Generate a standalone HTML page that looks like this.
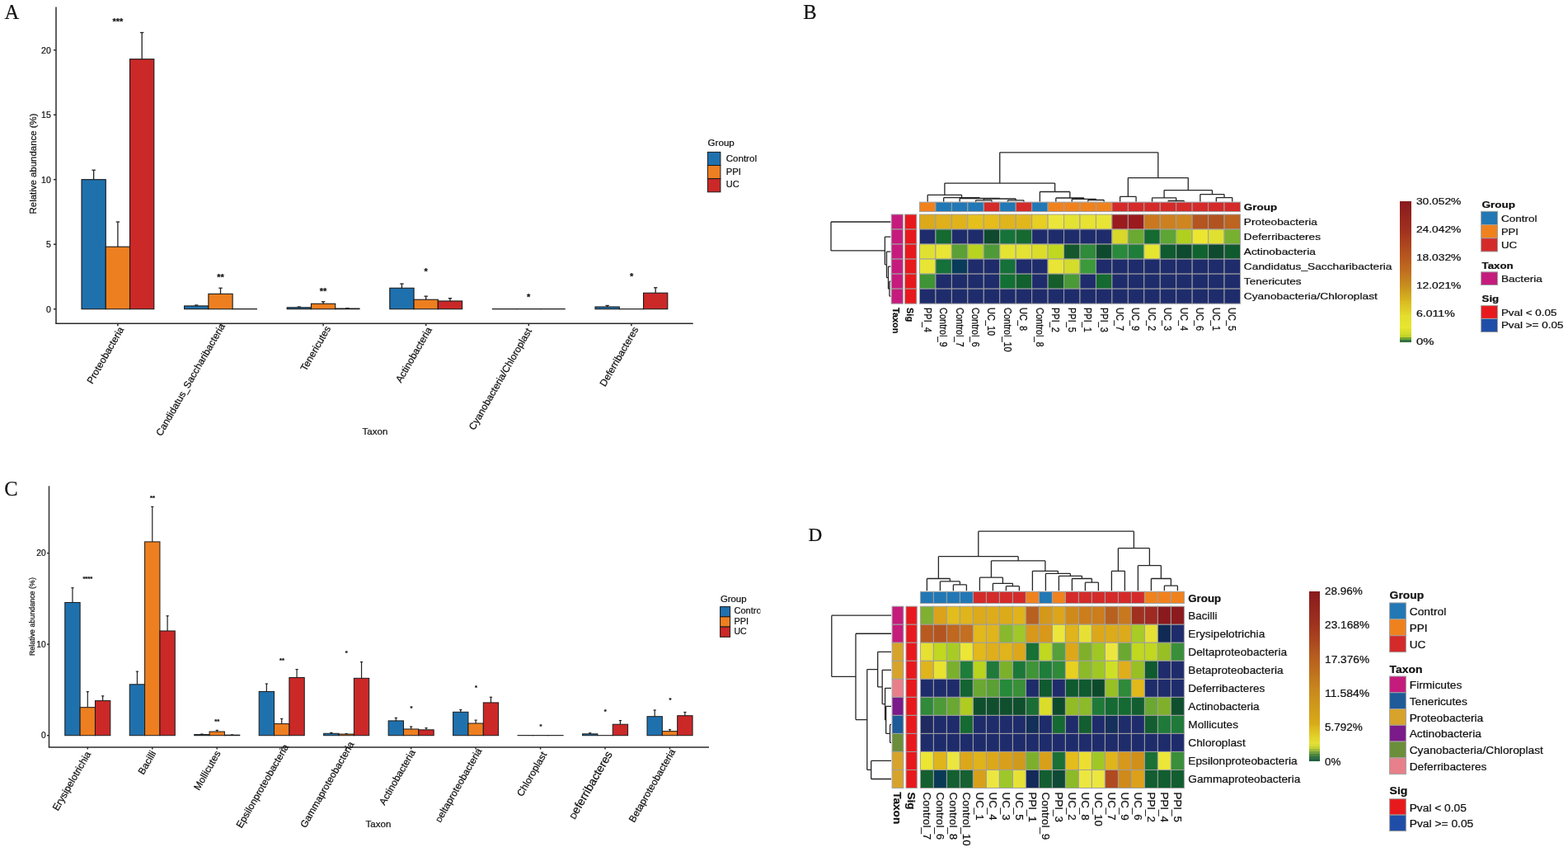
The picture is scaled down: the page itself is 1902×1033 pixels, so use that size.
<!DOCTYPE html><html><head><meta charset="utf-8"><title>Figure</title>
<style>html,body{margin:0;padding:0;background:#fff;}svg{display:block;}text{font-family:'Liberation Sans', Arial, sans-serif;fill:#111;stroke:#111;stroke-width:0.22px;}</style></head><body>
<svg width="1902" height="1033" viewBox="0 0 1902 1033">
<rect x="0" y="0" width="1902" height="1033" fill="#fff"/>
<text x="5.6" y="22.6" font-size="24.5" style="font-family:'Liberation Serif', 'Times New Roman', serif">A</text>
<text x="974.2" y="22.8" font-size="24.5" style="font-family:'Liberation Serif', 'Times New Roman', serif">B</text>
<text x="5.2" y="600.8" font-size="24.5" style="font-family:'Liberation Serif', 'Times New Roman', serif">C</text>
<text x="980.6" y="656" font-size="23.2" style="font-family:'Liberation Serif', 'Times New Roman', serif">D</text>
<line x1="113.63" y1="217.7" x2="113.63" y2="206.24" stroke="#222" stroke-width="1.3"/>
<line x1="111.43" y1="206.24" x2="115.83" y2="206.24" stroke="#222" stroke-width="1.3"/>
<rect x="99" y="217.7" width="29.27" height="157" fill="#1f71ae" stroke="#1a1a1a" stroke-width="1.1"/>
<line x1="142.9" y1="299.18" x2="142.9" y2="269.04" stroke="#222" stroke-width="1.3"/>
<line x1="140.7" y1="269.04" x2="145.1" y2="269.04" stroke="#222" stroke-width="1.3"/>
<rect x="128.27" y="299.18" width="29.27" height="75.52" fill="#ee7f20" stroke="#1a1a1a" stroke-width="1.1"/>
<line x1="172.17" y1="71.69" x2="172.17" y2="39.5" stroke="#222" stroke-width="1.3"/>
<line x1="169.97" y1="39.5" x2="174.37" y2="39.5" stroke="#222" stroke-width="1.3"/>
<rect x="157.53" y="71.69" width="29.27" height="303.01" fill="#cb2828" stroke="#1a1a1a" stroke-width="1.1"/>
<line x1="238.23" y1="370.93" x2="238.23" y2="369.99" stroke="#222" stroke-width="1.3"/>
<line x1="236.03" y1="369.99" x2="240.43" y2="369.99" stroke="#222" stroke-width="1.3"/>
<rect x="223.59" y="370.93" width="29.27" height="3.77" fill="#1f71ae" stroke="#1a1a1a" stroke-width="1.1"/>
<line x1="267.5" y1="356.33" x2="267.5" y2="349.27" stroke="#222" stroke-width="1.3"/>
<line x1="265.3" y1="349.27" x2="269.7" y2="349.27" stroke="#222" stroke-width="1.3"/>
<rect x="252.87" y="356.33" width="29.27" height="18.37" fill="#ee7f20" stroke="#1a1a1a" stroke-width="1.1"/>
<rect x="282.13" y="374.54" width="29.27" height="0.16" fill="#cb2828" stroke="#1a1a1a" stroke-width="1.1"/>
<line x1="362.83" y1="372.82" x2="362.83" y2="372.03" stroke="#222" stroke-width="1.3"/>
<line x1="360.63" y1="372.03" x2="365.03" y2="372.03" stroke="#222" stroke-width="1.3"/>
<rect x="348.2" y="372.82" width="29.27" height="1.88" fill="#1f71ae" stroke="#1a1a1a" stroke-width="1.1"/>
<line x1="392.1" y1="368.26" x2="392.1" y2="365.75" stroke="#222" stroke-width="1.3"/>
<line x1="389.9" y1="365.75" x2="394.3" y2="365.75" stroke="#222" stroke-width="1.3"/>
<rect x="377.47" y="368.26" width="29.27" height="6.44" fill="#ee7f20" stroke="#1a1a1a" stroke-width="1.1"/>
<line x1="421.37" y1="374.07" x2="421.37" y2="373.76" stroke="#222" stroke-width="1.3"/>
<line x1="419.17" y1="373.76" x2="423.57" y2="373.76" stroke="#222" stroke-width="1.3"/>
<rect x="406.74" y="374.07" width="29.27" height="0.63" fill="#cb2828" stroke="#1a1a1a" stroke-width="1.1"/>
<line x1="487.43" y1="349.27" x2="487.43" y2="344.08" stroke="#222" stroke-width="1.3"/>
<line x1="485.23" y1="344.08" x2="489.63" y2="344.08" stroke="#222" stroke-width="1.3"/>
<rect x="472.79" y="349.27" width="29.27" height="25.43" fill="#1f71ae" stroke="#1a1a1a" stroke-width="1.1"/>
<line x1="516.7" y1="363.24" x2="516.7" y2="359.16" stroke="#222" stroke-width="1.3"/>
<line x1="514.5" y1="359.16" x2="518.9" y2="359.16" stroke="#222" stroke-width="1.3"/>
<rect x="502.06" y="363.24" width="29.27" height="11.46" fill="#ee7f20" stroke="#1a1a1a" stroke-width="1.1"/>
<line x1="545.97" y1="364.97" x2="545.97" y2="361.67" stroke="#222" stroke-width="1.3"/>
<line x1="543.77" y1="361.67" x2="548.17" y2="361.67" stroke="#222" stroke-width="1.3"/>
<rect x="531.33" y="364.97" width="29.27" height="9.73" fill="#cb2828" stroke="#1a1a1a" stroke-width="1.1"/>
<rect x="597.39" y="374.54" width="29.27" height="0.16" fill="#1f71ae" stroke="#1a1a1a" stroke-width="1.1"/>
<rect x="626.66" y="374.54" width="29.27" height="0.16" fill="#ee7f20" stroke="#1a1a1a" stroke-width="1.1"/>
<rect x="655.93" y="374.54" width="29.27" height="0.16" fill="#cb2828" stroke="#1a1a1a" stroke-width="1.1"/>
<line x1="736.63" y1="372.03" x2="736.63" y2="370.46" stroke="#222" stroke-width="1.3"/>
<line x1="734.43" y1="370.46" x2="738.83" y2="370.46" stroke="#222" stroke-width="1.3"/>
<rect x="722" y="372.03" width="29.27" height="2.67" fill="#1f71ae" stroke="#1a1a1a" stroke-width="1.1"/>
<rect x="751.26" y="374.62" width="29.27" height="0.08" fill="#ee7f20" stroke="#1a1a1a" stroke-width="1.1"/>
<line x1="795.17" y1="355.23" x2="795.17" y2="348.8" stroke="#222" stroke-width="1.3"/>
<line x1="792.97" y1="348.8" x2="797.37" y2="348.8" stroke="#222" stroke-width="1.3"/>
<rect x="780.53" y="355.23" width="29.27" height="19.47" fill="#cb2828" stroke="#1a1a1a" stroke-width="1.1"/>
<line x1="68" y1="8.5" x2="68" y2="392.2" stroke="#2b2b2b" stroke-width="1.5"/>
<line x1="67.25" y1="392.2" x2="840.7" y2="392.2" stroke="#2b2b2b" stroke-width="1.5"/>
<line x1="65" y1="374.7" x2="68" y2="374.7" stroke="#2b2b2b" stroke-width="1.5"/>
<text x="61.9" y="378.5" font-size="10.6" text-anchor="end">0</text>
<line x1="65" y1="296.2" x2="68" y2="296.2" stroke="#2b2b2b" stroke-width="1.5"/>
<text x="61.9" y="300" font-size="10.6" text-anchor="end">5</text>
<line x1="65" y1="217.7" x2="68" y2="217.7" stroke="#2b2b2b" stroke-width="1.5"/>
<text x="61.9" y="221.5" font-size="10.6" text-anchor="end">10</text>
<line x1="65" y1="139.2" x2="68" y2="139.2" stroke="#2b2b2b" stroke-width="1.5"/>
<text x="61.9" y="143" font-size="10.6" text-anchor="end">15</text>
<line x1="65" y1="60.7" x2="68" y2="60.7" stroke="#2b2b2b" stroke-width="1.5"/>
<text x="61.9" y="64.5" font-size="10.6" text-anchor="end">20</text>
<line x1="142.9" y1="392.2" x2="142.9" y2="395.2" stroke="#2b2b2b" stroke-width="1.5"/>
<line x1="267.5" y1="392.2" x2="267.5" y2="395.2" stroke="#2b2b2b" stroke-width="1.5"/>
<line x1="392.1" y1="392.2" x2="392.1" y2="395.2" stroke="#2b2b2b" stroke-width="1.5"/>
<line x1="516.7" y1="392.2" x2="516.7" y2="395.2" stroke="#2b2b2b" stroke-width="1.5"/>
<line x1="641.3" y1="392.2" x2="641.3" y2="395.2" stroke="#2b2b2b" stroke-width="1.5"/>
<line x1="765.9" y1="392.2" x2="765.9" y2="395.2" stroke="#2b2b2b" stroke-width="1.5"/>
<text x="0" y="0" font-size="11.9" text-anchor="end" transform="translate(150.6 399.2) rotate(-60)">Proteobacteria</text>
<text x="0" y="0" font-size="11.9" text-anchor="end" transform="translate(273.3 395) rotate(-60)">Candidatus_Saccharibacteria</text>
<text x="0" y="0" font-size="11.9" text-anchor="end" transform="translate(401.4 398.2) rotate(-60)">Tenericutes</text>
<text x="0" y="0" font-size="11.9" text-anchor="end" transform="translate(524.2 399.6) rotate(-60)">Actinobacteria</text>
<text x="0" y="0" font-size="11.9" text-anchor="end" transform="translate(645.3 400.9) rotate(-60)">Cyanobacteria/Chloroplast</text>
<text x="0" y="0" font-size="11.9" text-anchor="end" transform="translate(774.7 399) rotate(-60)">Deferribacteres</text>
<text x="142.9" y="29.6" font-size="11" text-anchor="middle" font-weight="bold" fill="#000">***</text>
<text x="267.5" y="339.8" font-size="11" text-anchor="middle" font-weight="bold" fill="#000">**</text>
<text x="392.1" y="356.5" font-size="11" text-anchor="middle" font-weight="bold" fill="#000">**</text>
<text x="516.7" y="333.4" font-size="11" text-anchor="middle" font-weight="bold" fill="#000">*</text>
<text x="641.2" y="364.4" font-size="11" text-anchor="middle" font-weight="bold" fill="#000">*</text>
<text x="766.1" y="338.7" font-size="11" text-anchor="middle" font-weight="bold" fill="#000">*</text>
<text x="0" y="0" font-size="11.4" text-anchor="middle" textLength="122" lengthAdjust="spacingAndGlyphs" transform="translate(43.8 198.5) rotate(-90)">Relative abundance (%)</text>
<text x="439.6" y="526.8" font-size="11.3" textLength="30.8" lengthAdjust="spacingAndGlyphs">Taxon</text>
<text x="858.6" y="176.6" font-size="10.4" textLength="32.2" lengthAdjust="spacingAndGlyphs">Group</text>
<rect x="858.4" y="184.4" width="15.5" height="16.13" fill="#1f71ae" stroke="#1a1a1a" stroke-width="1"/>
<rect x="858.4" y="200.53" width="15.5" height="16.13" fill="#ee7f20" stroke="#1a1a1a" stroke-width="1"/>
<rect x="858.4" y="216.66" width="15.5" height="16.13" fill="#cb2828" stroke="#1a1a1a" stroke-width="1"/>
<text x="880.7" y="195.5" font-size="10.8" textLength="37.3" lengthAdjust="spacingAndGlyphs">Control</text>
<text x="880.7" y="211.5" font-size="10.8" textLength="18.3" lengthAdjust="spacingAndGlyphs">PPI</text>
<text x="880.7" y="227.4" font-size="10.8" textLength="15.9" lengthAdjust="spacingAndGlyphs">UC</text>
<line x1="87.95" y1="730.48" x2="87.95" y2="712.69" stroke="#222" stroke-width="1.2"/>
<line x1="86.35" y1="712.69" x2="89.55" y2="712.69" stroke="#222" stroke-width="1.2"/>
<rect x="78.77" y="730.48" width="18.35" height="161.22" fill="#1f71ae" stroke="#1a1a1a" stroke-width="1"/>
<line x1="106.3" y1="857.67" x2="106.3" y2="838.66" stroke="#222" stroke-width="1.2"/>
<line x1="104.7" y1="838.66" x2="107.9" y2="838.66" stroke="#222" stroke-width="1.2"/>
<rect x="97.12" y="857.67" width="18.35" height="34.03" fill="#ee7f20" stroke="#1a1a1a" stroke-width="1"/>
<line x1="124.65" y1="849.6" x2="124.65" y2="843.85" stroke="#222" stroke-width="1.2"/>
<line x1="123.05" y1="843.85" x2="126.25" y2="843.85" stroke="#222" stroke-width="1.2"/>
<rect x="115.47" y="849.6" width="18.35" height="42.1" fill="#cb2828" stroke="#1a1a1a" stroke-width="1"/>
<line x1="166.42" y1="829.82" x2="166.42" y2="814.13" stroke="#222" stroke-width="1.2"/>
<line x1="164.82" y1="814.13" x2="168.02" y2="814.13" stroke="#222" stroke-width="1.2"/>
<rect x="157.24" y="829.82" width="18.35" height="61.88" fill="#1f71ae" stroke="#1a1a1a" stroke-width="1"/>
<line x1="184.77" y1="656.89" x2="184.77" y2="614.35" stroke="#222" stroke-width="1.2"/>
<line x1="183.17" y1="614.35" x2="186.37" y2="614.35" stroke="#222" stroke-width="1.2"/>
<rect x="175.59" y="656.89" width="18.35" height="234.81" fill="#ee7f20" stroke="#1a1a1a" stroke-width="1"/>
<line x1="203.12" y1="764.96" x2="203.12" y2="746.72" stroke="#222" stroke-width="1.2"/>
<line x1="201.52" y1="746.72" x2="204.72" y2="746.72" stroke="#222" stroke-width="1.2"/>
<rect x="193.94" y="764.96" width="18.35" height="126.74" fill="#cb2828" stroke="#1a1a1a" stroke-width="1"/>
<line x1="244.89" y1="890.6" x2="244.89" y2="890.04" stroke="#222" stroke-width="1.2"/>
<line x1="243.29" y1="890.04" x2="246.49" y2="890.04" stroke="#222" stroke-width="1.2"/>
<rect x="235.72" y="890.6" width="18.35" height="1.11" fill="#1f71ae" stroke="#1a1a1a" stroke-width="1"/>
<line x1="263.24" y1="887.06" x2="263.24" y2="885.4" stroke="#222" stroke-width="1.2"/>
<line x1="261.64" y1="885.4" x2="264.84" y2="885.4" stroke="#222" stroke-width="1.2"/>
<rect x="254.06" y="887.06" width="18.35" height="4.64" fill="#ee7f20" stroke="#1a1a1a" stroke-width="1"/>
<line x1="281.59" y1="891.15" x2="281.59" y2="890.93" stroke="#222" stroke-width="1.2"/>
<line x1="279.99" y1="890.93" x2="283.19" y2="890.93" stroke="#222" stroke-width="1.2"/>
<rect x="272.42" y="891.15" width="18.35" height="0.55" fill="#cb2828" stroke="#1a1a1a" stroke-width="1"/>
<line x1="323.36" y1="838.44" x2="323.36" y2="829.05" stroke="#222" stroke-width="1.2"/>
<line x1="321.76" y1="829.05" x2="324.96" y2="829.05" stroke="#222" stroke-width="1.2"/>
<rect x="314.19" y="838.44" width="18.35" height="53.26" fill="#1f71ae" stroke="#1a1a1a" stroke-width="1"/>
<line x1="341.71" y1="877.56" x2="341.71" y2="871.48" stroke="#222" stroke-width="1.2"/>
<line x1="340.11" y1="871.48" x2="343.31" y2="871.48" stroke="#222" stroke-width="1.2"/>
<rect x="332.53" y="877.56" width="18.35" height="14.14" fill="#ee7f20" stroke="#1a1a1a" stroke-width="1"/>
<line x1="360.06" y1="821.53" x2="360.06" y2="811.59" stroke="#222" stroke-width="1.2"/>
<line x1="358.46" y1="811.59" x2="361.66" y2="811.59" stroke="#222" stroke-width="1.2"/>
<rect x="350.88" y="821.53" width="18.35" height="70.17" fill="#cb2828" stroke="#1a1a1a" stroke-width="1"/>
<line x1="401.83" y1="889.27" x2="401.83" y2="888.38" stroke="#222" stroke-width="1.2"/>
<line x1="400.23" y1="888.38" x2="403.43" y2="888.38" stroke="#222" stroke-width="1.2"/>
<rect x="392.66" y="889.27" width="18.35" height="2.43" fill="#1f71ae" stroke="#1a1a1a" stroke-width="1"/>
<line x1="420.18" y1="890.04" x2="420.18" y2="889.49" stroke="#222" stroke-width="1.2"/>
<line x1="418.58" y1="889.49" x2="421.78" y2="889.49" stroke="#222" stroke-width="1.2"/>
<rect x="411" y="890.04" width="18.35" height="1.66" fill="#ee7f20" stroke="#1a1a1a" stroke-width="1"/>
<line x1="438.53" y1="822.31" x2="438.53" y2="802.64" stroke="#222" stroke-width="1.2"/>
<line x1="436.93" y1="802.64" x2="440.13" y2="802.64" stroke="#222" stroke-width="1.2"/>
<rect x="429.36" y="822.31" width="18.35" height="69.39" fill="#cb2828" stroke="#1a1a1a" stroke-width="1"/>
<line x1="480.3" y1="873.91" x2="480.3" y2="870.37" stroke="#222" stroke-width="1.2"/>
<line x1="478.7" y1="870.37" x2="481.9" y2="870.37" stroke="#222" stroke-width="1.2"/>
<rect x="471.13" y="873.91" width="18.35" height="17.79" fill="#1f71ae" stroke="#1a1a1a" stroke-width="1"/>
<line x1="498.65" y1="883.97" x2="498.65" y2="880.98" stroke="#222" stroke-width="1.2"/>
<line x1="497.05" y1="880.98" x2="500.25" y2="880.98" stroke="#222" stroke-width="1.2"/>
<rect x="489.48" y="883.97" width="18.35" height="7.74" fill="#ee7f20" stroke="#1a1a1a" stroke-width="1"/>
<line x1="517" y1="884.85" x2="517" y2="882.64" stroke="#222" stroke-width="1.2"/>
<line x1="515.4" y1="882.64" x2="518.6" y2="882.64" stroke="#222" stroke-width="1.2"/>
<rect x="507.83" y="884.85" width="18.35" height="6.85" fill="#cb2828" stroke="#1a1a1a" stroke-width="1"/>
<line x1="558.77" y1="863.3" x2="558.77" y2="860.54" stroke="#222" stroke-width="1.2"/>
<line x1="557.17" y1="860.54" x2="560.37" y2="860.54" stroke="#222" stroke-width="1.2"/>
<rect x="549.6" y="863.3" width="18.35" height="28.4" fill="#1f71ae" stroke="#1a1a1a" stroke-width="1"/>
<line x1="577.12" y1="877" x2="577.12" y2="873.14" stroke="#222" stroke-width="1.2"/>
<line x1="575.52" y1="873.14" x2="578.72" y2="873.14" stroke="#222" stroke-width="1.2"/>
<rect x="567.95" y="877" width="18.35" height="14.7" fill="#ee7f20" stroke="#1a1a1a" stroke-width="1"/>
<line x1="595.47" y1="851.92" x2="595.47" y2="845.29" stroke="#222" stroke-width="1.2"/>
<line x1="593.87" y1="845.29" x2="597.07" y2="845.29" stroke="#222" stroke-width="1.2"/>
<rect x="586.29" y="851.92" width="18.35" height="39.78" fill="#cb2828" stroke="#1a1a1a" stroke-width="1"/>
<rect x="628.06" y="891.59" width="18.35" height="0.11" fill="#1f71ae" stroke="#1a1a1a" stroke-width="1"/>
<rect x="646.41" y="891.59" width="18.35" height="0.11" fill="#ee7f20" stroke="#1a1a1a" stroke-width="1"/>
<rect x="664.76" y="891.59" width="18.35" height="0.11" fill="#cb2828" stroke="#1a1a1a" stroke-width="1"/>
<line x1="715.71" y1="889.82" x2="715.71" y2="888.72" stroke="#222" stroke-width="1.2"/>
<line x1="714.11" y1="888.72" x2="717.31" y2="888.72" stroke="#222" stroke-width="1.2"/>
<rect x="706.53" y="889.82" width="18.35" height="1.88" fill="#1f71ae" stroke="#1a1a1a" stroke-width="1"/>
<rect x="724.88" y="891.64" width="18.35" height="0.06" fill="#ee7f20" stroke="#1a1a1a" stroke-width="1"/>
<line x1="752.41" y1="878.22" x2="752.41" y2="873.58" stroke="#222" stroke-width="1.2"/>
<line x1="750.81" y1="873.58" x2="754.01" y2="873.58" stroke="#222" stroke-width="1.2"/>
<rect x="743.23" y="878.22" width="18.35" height="13.48" fill="#cb2828" stroke="#1a1a1a" stroke-width="1"/>
<line x1="794.18" y1="868.72" x2="794.18" y2="860.98" stroke="#222" stroke-width="1.2"/>
<line x1="792.58" y1="860.98" x2="795.78" y2="860.98" stroke="#222" stroke-width="1.2"/>
<rect x="785" y="868.72" width="18.35" height="22.98" fill="#1f71ae" stroke="#1a1a1a" stroke-width="1"/>
<line x1="812.53" y1="886.62" x2="812.53" y2="884.52" stroke="#222" stroke-width="1.2"/>
<line x1="810.93" y1="884.52" x2="814.13" y2="884.52" stroke="#222" stroke-width="1.2"/>
<rect x="803.36" y="886.62" width="18.35" height="5.08" fill="#ee7f20" stroke="#1a1a1a" stroke-width="1"/>
<line x1="830.88" y1="867.72" x2="830.88" y2="863.52" stroke="#222" stroke-width="1.2"/>
<line x1="829.28" y1="863.52" x2="832.48" y2="863.52" stroke="#222" stroke-width="1.2"/>
<rect x="821.7" y="867.72" width="18.35" height="23.98" fill="#cb2828" stroke="#1a1a1a" stroke-width="1"/>
<line x1="59.5" y1="589.2" x2="59.5" y2="906" stroke="#2b2b2b" stroke-width="1.45"/>
<line x1="58.77" y1="906" x2="860" y2="906" stroke="#2b2b2b" stroke-width="1.45"/>
<line x1="57" y1="891.7" x2="59.5" y2="891.7" stroke="#2b2b2b" stroke-width="1.45"/>
<text x="55.6" y="895.3" font-size="10.2" text-anchor="end">0</text>
<line x1="57" y1="781.2" x2="59.5" y2="781.2" stroke="#2b2b2b" stroke-width="1.45"/>
<text x="55.6" y="784.8" font-size="10.2" text-anchor="end">10</text>
<line x1="57" y1="670.7" x2="59.5" y2="670.7" stroke="#2b2b2b" stroke-width="1.45"/>
<text x="55.6" y="674.3" font-size="10.2" text-anchor="end">20</text>
<line x1="106.3" y1="906" x2="106.3" y2="908.5" stroke="#2b2b2b" stroke-width="1.45"/>
<line x1="184.77" y1="906" x2="184.77" y2="908.5" stroke="#2b2b2b" stroke-width="1.45"/>
<line x1="263.24" y1="906" x2="263.24" y2="908.5" stroke="#2b2b2b" stroke-width="1.45"/>
<line x1="341.71" y1="906" x2="341.71" y2="908.5" stroke="#2b2b2b" stroke-width="1.45"/>
<line x1="420.18" y1="906" x2="420.18" y2="908.5" stroke="#2b2b2b" stroke-width="1.45"/>
<line x1="498.65" y1="906" x2="498.65" y2="908.5" stroke="#2b2b2b" stroke-width="1.45"/>
<line x1="577.12" y1="906" x2="577.12" y2="908.5" stroke="#2b2b2b" stroke-width="1.45"/>
<line x1="655.59" y1="906" x2="655.59" y2="908.5" stroke="#2b2b2b" stroke-width="1.45"/>
<line x1="734.06" y1="906" x2="734.06" y2="908.5" stroke="#2b2b2b" stroke-width="1.45"/>
<line x1="812.53" y1="906" x2="812.53" y2="908.5" stroke="#2b2b2b" stroke-width="1.45"/>
<text x="0" y="0" font-size="11.9" text-anchor="end" transform="translate(110.6 914) rotate(-60)">Erysipelotrichia</text>
<text x="0" y="0" font-size="11.9" text-anchor="end" transform="translate(189.6 913.2) rotate(-60)">Bacilli</text>
<text x="0" y="0" font-size="11.9" text-anchor="end" transform="translate(267.9 913.2) rotate(-60)">Mollicutes</text>
<text x="0" y="0" font-size="11.9" text-anchor="end" transform="translate(350.6 905.2) rotate(-60)">Epsilonproteobacteria</text>
<text x="0" y="0" font-size="11.9" text-anchor="end" transform="translate(429.8 902) rotate(-60)">Gammaproteobacteria</text>
<text x="0" y="0" font-size="11.9" text-anchor="end" transform="translate(504.2 911.7) rotate(-60)">Actinobacteria</text>
<text x="0" y="0" font-size="11.9" text-anchor="end" transform="translate(584.9 910) rotate(-60)"><tspan font-size="8.6">D</tspan>eltaproteobacteria</text>
<text x="0" y="0" font-size="11.9" text-anchor="end" transform="translate(663.6 914.5) rotate(-60)">Chloroplast</text>
<text x="0" y="0" font-size="13.9" text-anchor="end" transform="translate(743.3 914.1) rotate(-60)"><tspan font-size="10">D</tspan>eferribacteres</text>
<text x="0" y="0" font-size="11.9" text-anchor="end" transform="translate(819.6 910.9) rotate(-60)">Betaproteobacteria</text>
<text x="106.3" y="704.3" font-size="7.6" text-anchor="middle" font-weight="bold" fill="#000">****</text>
<text x="184.9" y="605.5" font-size="7.6" text-anchor="middle" font-weight="bold" fill="#000">**</text>
<text x="263.3" y="877" font-size="7.6" text-anchor="middle" font-weight="bold" fill="#000">**</text>
<text x="342" y="802.6" font-size="7.6" text-anchor="middle" font-weight="bold" fill="#000">**</text>
<text x="420.3" y="793.5" font-size="7.6" text-anchor="middle" font-weight="bold" fill="#000">*</text>
<text x="499" y="861" font-size="7.6" text-anchor="middle" font-weight="bold" fill="#000">*</text>
<text x="577.5" y="835.7" font-size="7.6" text-anchor="middle" font-weight="bold" fill="#000">*</text>
<text x="656" y="882.5" font-size="7.6" text-anchor="middle" font-weight="bold" fill="#000">*</text>
<text x="734.2" y="864.5" font-size="7.6" text-anchor="middle" font-weight="bold" fill="#000">*</text>
<text x="813.1" y="851.4" font-size="7.6" text-anchor="middle" font-weight="bold" fill="#000">*</text>
<text x="0" y="0" font-size="8.3" text-anchor="middle" textLength="95" lengthAdjust="spacingAndGlyphs" transform="translate(41.5 747.6) rotate(-90)">Relative abundance (%)</text>
<text x="443.5" y="1002.6" font-size="11" textLength="30.8" lengthAdjust="spacingAndGlyphs">Taxon</text>
<clipPath id="clipC"><rect x="860" y="700" width="62.3" height="90"/></clipPath>
<g clip-path="url(#clipC)">
<text x="873.9" y="729.6" font-size="10.3" textLength="31.6" lengthAdjust="spacingAndGlyphs">Group</text>
<rect x="873.6" y="735.6" width="12" height="12.23" fill="#1f71ae" stroke="#1a1a1a" stroke-width="1"/>
<rect x="873.6" y="747.83" width="12" height="12.23" fill="#ee7f20" stroke="#1a1a1a" stroke-width="1"/>
<rect x="873.6" y="760.06" width="12" height="12.23" fill="#cb2828" stroke="#1a1a1a" stroke-width="1"/>
<text x="890.5" y="743.5" font-size="10.6" textLength="35.5" lengthAdjust="spacingAndGlyphs">Control</text>
<text x="890.5" y="756.6" font-size="10.6" textLength="17.5" lengthAdjust="spacingAndGlyphs">PPI</text>
<text x="890.5" y="768.6" font-size="10.6" textLength="15.2" lengthAdjust="spacingAndGlyphs">UC</text>
</g>
<rect x="1115.5" y="245.1" width="19.45" height="11.5" fill="#f0821e" stroke="#a0a0a0" stroke-width="1"/>
<rect x="1134.95" y="245.1" width="19.45" height="11.5" fill="#2178b5" stroke="#a0a0a0" stroke-width="1"/>
<rect x="1154.4" y="245.1" width="19.45" height="11.5" fill="#2178b5" stroke="#a0a0a0" stroke-width="1"/>
<rect x="1173.85" y="245.1" width="19.45" height="11.5" fill="#2178b5" stroke="#a0a0a0" stroke-width="1"/>
<rect x="1193.3" y="245.1" width="19.45" height="11.5" fill="#d42a2a" stroke="#a0a0a0" stroke-width="1"/>
<rect x="1212.75" y="245.1" width="19.45" height="11.5" fill="#2178b5" stroke="#a0a0a0" stroke-width="1"/>
<rect x="1232.2" y="245.1" width="19.45" height="11.5" fill="#d42a2a" stroke="#a0a0a0" stroke-width="1"/>
<rect x="1251.65" y="245.1" width="19.45" height="11.5" fill="#2178b5" stroke="#a0a0a0" stroke-width="1"/>
<rect x="1271.1" y="245.1" width="19.45" height="11.5" fill="#f0821e" stroke="#a0a0a0" stroke-width="1"/>
<rect x="1290.55" y="245.1" width="19.45" height="11.5" fill="#f0821e" stroke="#a0a0a0" stroke-width="1"/>
<rect x="1310" y="245.1" width="19.45" height="11.5" fill="#f0821e" stroke="#a0a0a0" stroke-width="1"/>
<rect x="1329.45" y="245.1" width="19.45" height="11.5" fill="#f0821e" stroke="#a0a0a0" stroke-width="1"/>
<rect x="1348.9" y="245.1" width="19.45" height="11.5" fill="#d42a2a" stroke="#a0a0a0" stroke-width="1"/>
<rect x="1368.35" y="245.1" width="19.45" height="11.5" fill="#d42a2a" stroke="#a0a0a0" stroke-width="1"/>
<rect x="1387.8" y="245.1" width="19.45" height="11.5" fill="#d42a2a" stroke="#a0a0a0" stroke-width="1"/>
<rect x="1407.25" y="245.1" width="19.45" height="11.5" fill="#d42a2a" stroke="#a0a0a0" stroke-width="1"/>
<rect x="1426.7" y="245.1" width="19.45" height="11.5" fill="#d42a2a" stroke="#a0a0a0" stroke-width="1"/>
<rect x="1446.15" y="245.1" width="19.45" height="11.5" fill="#d42a2a" stroke="#a0a0a0" stroke-width="1"/>
<rect x="1465.6" y="245.1" width="19.45" height="11.5" fill="#d42a2a" stroke="#a0a0a0" stroke-width="1"/>
<rect x="1485.05" y="245.1" width="19.45" height="11.5" fill="#d42a2a" stroke="#a0a0a0" stroke-width="1"/>
<rect x="1115.5" y="260" width="19.45" height="18.03" fill="#dba91a" stroke="#a0a0a0" stroke-width="1"/>
<rect x="1134.95" y="260" width="19.45" height="18.03" fill="#dfb01b" stroke="#a0a0a0" stroke-width="1"/>
<rect x="1154.4" y="260" width="19.45" height="18.03" fill="#e0b31b" stroke="#a0a0a0" stroke-width="1"/>
<rect x="1173.85" y="260" width="19.45" height="18.03" fill="#e6c01a" stroke="#a0a0a0" stroke-width="1"/>
<rect x="1193.3" y="260" width="19.45" height="18.03" fill="#e5bc1b" stroke="#a0a0a0" stroke-width="1"/>
<rect x="1212.75" y="260" width="19.45" height="18.03" fill="#e0b41b" stroke="#a0a0a0" stroke-width="1"/>
<rect x="1232.2" y="260" width="19.45" height="18.03" fill="#e2b71b" stroke="#a0a0a0" stroke-width="1"/>
<rect x="1251.65" y="260" width="19.45" height="18.03" fill="#e8cf22" stroke="#a0a0a0" stroke-width="1"/>
<rect x="1271.1" y="260" width="19.45" height="18.03" fill="#ece63a" stroke="#a0a0a0" stroke-width="1"/>
<rect x="1290.55" y="260" width="19.45" height="18.03" fill="#e4e233" stroke="#a0a0a0" stroke-width="1"/>
<rect x="1310" y="260" width="19.45" height="18.03" fill="#e8e232" stroke="#a0a0a0" stroke-width="1"/>
<rect x="1329.45" y="260" width="19.45" height="18.03" fill="#e8e435" stroke="#a0a0a0" stroke-width="1"/>
<rect x="1348.9" y="260" width="19.45" height="18.03" fill="#9a1a1e" stroke="#a0a0a0" stroke-width="1"/>
<rect x="1368.35" y="260" width="19.45" height="18.03" fill="#9a1a1e" stroke="#a0a0a0" stroke-width="1"/>
<rect x="1387.8" y="260" width="19.45" height="18.03" fill="#c9781f" stroke="#a0a0a0" stroke-width="1"/>
<rect x="1407.25" y="260" width="19.45" height="18.03" fill="#cc8020" stroke="#a0a0a0" stroke-width="1"/>
<rect x="1426.7" y="260" width="19.45" height="18.03" fill="#cf8520" stroke="#a0a0a0" stroke-width="1"/>
<rect x="1446.15" y="260" width="19.45" height="18.03" fill="#b4541f" stroke="#a0a0a0" stroke-width="1"/>
<rect x="1465.6" y="260" width="19.45" height="18.03" fill="#b0531f" stroke="#a0a0a0" stroke-width="1"/>
<rect x="1485.05" y="260" width="19.45" height="18.03" fill="#bc6420" stroke="#a0a0a0" stroke-width="1"/>
<rect x="1115.5" y="278.03" width="19.45" height="18.03" fill="#1f2c6c" stroke="#a0a0a0" stroke-width="1"/>
<rect x="1134.95" y="278.03" width="19.45" height="18.03" fill="#146a30" stroke="#a0a0a0" stroke-width="1"/>
<rect x="1154.4" y="278.03" width="19.45" height="18.03" fill="#1f2c6c" stroke="#a0a0a0" stroke-width="1"/>
<rect x="1173.85" y="278.03" width="19.45" height="18.03" fill="#1f2c6c" stroke="#a0a0a0" stroke-width="1"/>
<rect x="1193.3" y="278.03" width="19.45" height="18.03" fill="#0f4a2e" stroke="#a0a0a0" stroke-width="1"/>
<rect x="1212.75" y="278.03" width="19.45" height="18.03" fill="#15733a" stroke="#a0a0a0" stroke-width="1"/>
<rect x="1232.2" y="278.03" width="19.45" height="18.03" fill="#166a30" stroke="#a0a0a0" stroke-width="1"/>
<rect x="1251.65" y="278.03" width="19.45" height="18.03" fill="#1f2c6c" stroke="#a0a0a0" stroke-width="1"/>
<rect x="1271.1" y="278.03" width="19.45" height="18.03" fill="#1f2c6c" stroke="#a0a0a0" stroke-width="1"/>
<rect x="1290.55" y="278.03" width="19.45" height="18.03" fill="#1f2c6c" stroke="#a0a0a0" stroke-width="1"/>
<rect x="1310" y="278.03" width="19.45" height="18.03" fill="#1f2c6c" stroke="#a0a0a0" stroke-width="1"/>
<rect x="1329.45" y="278.03" width="19.45" height="18.03" fill="#1f2c6c" stroke="#a0a0a0" stroke-width="1"/>
<rect x="1348.9" y="278.03" width="19.45" height="18.03" fill="#d8d82a" stroke="#a0a0a0" stroke-width="1"/>
<rect x="1368.35" y="278.03" width="19.45" height="18.03" fill="#6aaa30" stroke="#a0a0a0" stroke-width="1"/>
<rect x="1387.8" y="278.03" width="19.45" height="18.03" fill="#146a30" stroke="#a0a0a0" stroke-width="1"/>
<rect x="1407.25" y="278.03" width="19.45" height="18.03" fill="#5da535" stroke="#a0a0a0" stroke-width="1"/>
<rect x="1426.7" y="278.03" width="19.45" height="18.03" fill="#b0d020" stroke="#a0a0a0" stroke-width="1"/>
<rect x="1446.15" y="278.03" width="19.45" height="18.03" fill="#ece630" stroke="#a0a0a0" stroke-width="1"/>
<rect x="1465.6" y="278.03" width="19.45" height="18.03" fill="#e0e030" stroke="#a0a0a0" stroke-width="1"/>
<rect x="1485.05" y="278.03" width="19.45" height="18.03" fill="#78b030" stroke="#a0a0a0" stroke-width="1"/>
<rect x="1115.5" y="296.06" width="19.45" height="18.03" fill="#dfe032" stroke="#a0a0a0" stroke-width="1"/>
<rect x="1134.95" y="296.06" width="19.45" height="18.03" fill="#e9e535" stroke="#a0a0a0" stroke-width="1"/>
<rect x="1154.4" y="296.06" width="19.45" height="18.03" fill="#5aa035" stroke="#a0a0a0" stroke-width="1"/>
<rect x="1173.85" y="296.06" width="19.45" height="18.03" fill="#b8d420" stroke="#a0a0a0" stroke-width="1"/>
<rect x="1193.3" y="296.06" width="19.45" height="18.03" fill="#4e9a38" stroke="#a0a0a0" stroke-width="1"/>
<rect x="1212.75" y="296.06" width="19.45" height="18.03" fill="#e5e332" stroke="#a0a0a0" stroke-width="1"/>
<rect x="1232.2" y="296.06" width="19.45" height="18.03" fill="#e4e232" stroke="#a0a0a0" stroke-width="1"/>
<rect x="1251.65" y="296.06" width="19.45" height="18.03" fill="#dcdd2a" stroke="#a0a0a0" stroke-width="1"/>
<rect x="1271.1" y="296.06" width="19.45" height="18.03" fill="#c0d820" stroke="#a0a0a0" stroke-width="1"/>
<rect x="1290.55" y="296.06" width="19.45" height="18.03" fill="#14572c" stroke="#a0a0a0" stroke-width="1"/>
<rect x="1310" y="296.06" width="19.45" height="18.03" fill="#2f8a3a" stroke="#a0a0a0" stroke-width="1"/>
<rect x="1329.45" y="296.06" width="19.45" height="18.03" fill="#0e4a2e" stroke="#a0a0a0" stroke-width="1"/>
<rect x="1348.9" y="296.06" width="19.45" height="18.03" fill="#2a8a3c" stroke="#a0a0a0" stroke-width="1"/>
<rect x="1368.35" y="296.06" width="19.45" height="18.03" fill="#1f7d3a" stroke="#a0a0a0" stroke-width="1"/>
<rect x="1387.8" y="296.06" width="19.45" height="18.03" fill="#e6e530" stroke="#a0a0a0" stroke-width="1"/>
<rect x="1407.25" y="296.06" width="19.45" height="18.03" fill="#0f5a2e" stroke="#a0a0a0" stroke-width="1"/>
<rect x="1426.7" y="296.06" width="19.45" height="18.03" fill="#0d4a2e" stroke="#a0a0a0" stroke-width="1"/>
<rect x="1446.15" y="296.06" width="19.45" height="18.03" fill="#10632f" stroke="#a0a0a0" stroke-width="1"/>
<rect x="1465.6" y="296.06" width="19.45" height="18.03" fill="#0e4a2e" stroke="#a0a0a0" stroke-width="1"/>
<rect x="1485.05" y="296.06" width="19.45" height="18.03" fill="#0f5a2e" stroke="#a0a0a0" stroke-width="1"/>
<rect x="1115.5" y="314.09" width="19.45" height="18.03" fill="#e8e535" stroke="#a0a0a0" stroke-width="1"/>
<rect x="1134.95" y="314.09" width="19.45" height="18.03" fill="#15703a" stroke="#a0a0a0" stroke-width="1"/>
<rect x="1154.4" y="314.09" width="19.45" height="18.03" fill="#083c5a" stroke="#a0a0a0" stroke-width="1"/>
<rect x="1173.85" y="314.09" width="19.45" height="18.03" fill="#1f2c6c" stroke="#a0a0a0" stroke-width="1"/>
<rect x="1193.3" y="314.09" width="19.45" height="18.03" fill="#1f2c6c" stroke="#a0a0a0" stroke-width="1"/>
<rect x="1212.75" y="314.09" width="19.45" height="18.03" fill="#15703a" stroke="#a0a0a0" stroke-width="1"/>
<rect x="1232.2" y="314.09" width="19.45" height="18.03" fill="#1f2c6c" stroke="#a0a0a0" stroke-width="1"/>
<rect x="1251.65" y="314.09" width="19.45" height="18.03" fill="#1f2c6c" stroke="#a0a0a0" stroke-width="1"/>
<rect x="1271.1" y="314.09" width="19.45" height="18.03" fill="#e8e535" stroke="#a0a0a0" stroke-width="1"/>
<rect x="1290.55" y="314.09" width="19.45" height="18.03" fill="#d4dc2c" stroke="#a0a0a0" stroke-width="1"/>
<rect x="1310" y="314.09" width="19.45" height="18.03" fill="#3c9a3a" stroke="#a0a0a0" stroke-width="1"/>
<rect x="1329.45" y="314.09" width="19.45" height="18.03" fill="#1f2c6c" stroke="#a0a0a0" stroke-width="1"/>
<rect x="1348.9" y="314.09" width="19.45" height="18.03" fill="#1f2c6c" stroke="#a0a0a0" stroke-width="1"/>
<rect x="1368.35" y="314.09" width="19.45" height="18.03" fill="#1f2c6c" stroke="#a0a0a0" stroke-width="1"/>
<rect x="1387.8" y="314.09" width="19.45" height="18.03" fill="#1f2c6c" stroke="#a0a0a0" stroke-width="1"/>
<rect x="1407.25" y="314.09" width="19.45" height="18.03" fill="#1f2c6c" stroke="#a0a0a0" stroke-width="1"/>
<rect x="1426.7" y="314.09" width="19.45" height="18.03" fill="#1f2c6c" stroke="#a0a0a0" stroke-width="1"/>
<rect x="1446.15" y="314.09" width="19.45" height="18.03" fill="#1f2c6c" stroke="#a0a0a0" stroke-width="1"/>
<rect x="1465.6" y="314.09" width="19.45" height="18.03" fill="#1f2c6c" stroke="#a0a0a0" stroke-width="1"/>
<rect x="1485.05" y="314.09" width="19.45" height="18.03" fill="#1f2c6c" stroke="#a0a0a0" stroke-width="1"/>
<rect x="1115.5" y="332.12" width="19.45" height="18.03" fill="#3f9436" stroke="#a0a0a0" stroke-width="1"/>
<rect x="1134.95" y="332.12" width="19.45" height="18.03" fill="#1f2c6c" stroke="#a0a0a0" stroke-width="1"/>
<rect x="1154.4" y="332.12" width="19.45" height="18.03" fill="#1f2c6c" stroke="#a0a0a0" stroke-width="1"/>
<rect x="1173.85" y="332.12" width="19.45" height="18.03" fill="#1f2c6c" stroke="#a0a0a0" stroke-width="1"/>
<rect x="1193.3" y="332.12" width="19.45" height="18.03" fill="#1f2c6c" stroke="#a0a0a0" stroke-width="1"/>
<rect x="1212.75" y="332.12" width="19.45" height="18.03" fill="#137034" stroke="#a0a0a0" stroke-width="1"/>
<rect x="1232.2" y="332.12" width="19.45" height="18.03" fill="#11602e" stroke="#a0a0a0" stroke-width="1"/>
<rect x="1251.65" y="332.12" width="19.45" height="18.03" fill="#1f2c6c" stroke="#a0a0a0" stroke-width="1"/>
<rect x="1271.1" y="332.12" width="19.45" height="18.03" fill="#155e2c" stroke="#a0a0a0" stroke-width="1"/>
<rect x="1290.55" y="332.12" width="19.45" height="18.03" fill="#4a9a38" stroke="#a0a0a0" stroke-width="1"/>
<rect x="1310" y="332.12" width="19.45" height="18.03" fill="#1f2c6c" stroke="#a0a0a0" stroke-width="1"/>
<rect x="1329.45" y="332.12" width="19.45" height="18.03" fill="#146a30" stroke="#a0a0a0" stroke-width="1"/>
<rect x="1348.9" y="332.12" width="19.45" height="18.03" fill="#1f2c6c" stroke="#a0a0a0" stroke-width="1"/>
<rect x="1368.35" y="332.12" width="19.45" height="18.03" fill="#1f2c6c" stroke="#a0a0a0" stroke-width="1"/>
<rect x="1387.8" y="332.12" width="19.45" height="18.03" fill="#1f2c6c" stroke="#a0a0a0" stroke-width="1"/>
<rect x="1407.25" y="332.12" width="19.45" height="18.03" fill="#1f2c6c" stroke="#a0a0a0" stroke-width="1"/>
<rect x="1426.7" y="332.12" width="19.45" height="18.03" fill="#1f2c6c" stroke="#a0a0a0" stroke-width="1"/>
<rect x="1446.15" y="332.12" width="19.45" height="18.03" fill="#1f2c6c" stroke="#a0a0a0" stroke-width="1"/>
<rect x="1465.6" y="332.12" width="19.45" height="18.03" fill="#1f2c6c" stroke="#a0a0a0" stroke-width="1"/>
<rect x="1485.05" y="332.12" width="19.45" height="18.03" fill="#1f2c6c" stroke="#a0a0a0" stroke-width="1"/>
<rect x="1115.5" y="350.15" width="19.45" height="18.03" fill="#1f2c6c" stroke="#a0a0a0" stroke-width="1"/>
<rect x="1134.95" y="350.15" width="19.45" height="18.03" fill="#1f2c6c" stroke="#a0a0a0" stroke-width="1"/>
<rect x="1154.4" y="350.15" width="19.45" height="18.03" fill="#1f2c6c" stroke="#a0a0a0" stroke-width="1"/>
<rect x="1173.85" y="350.15" width="19.45" height="18.03" fill="#1f2c6c" stroke="#a0a0a0" stroke-width="1"/>
<rect x="1193.3" y="350.15" width="19.45" height="18.03" fill="#1f2c6c" stroke="#a0a0a0" stroke-width="1"/>
<rect x="1212.75" y="350.15" width="19.45" height="18.03" fill="#1f2c6c" stroke="#a0a0a0" stroke-width="1"/>
<rect x="1232.2" y="350.15" width="19.45" height="18.03" fill="#1f2c6c" stroke="#a0a0a0" stroke-width="1"/>
<rect x="1251.65" y="350.15" width="19.45" height="18.03" fill="#1f2c6c" stroke="#a0a0a0" stroke-width="1"/>
<rect x="1271.1" y="350.15" width="19.45" height="18.03" fill="#1f2c6c" stroke="#a0a0a0" stroke-width="1"/>
<rect x="1290.55" y="350.15" width="19.45" height="18.03" fill="#1f2c6c" stroke="#a0a0a0" stroke-width="1"/>
<rect x="1310" y="350.15" width="19.45" height="18.03" fill="#1f2c6c" stroke="#a0a0a0" stroke-width="1"/>
<rect x="1329.45" y="350.15" width="19.45" height="18.03" fill="#1f2c6c" stroke="#a0a0a0" stroke-width="1"/>
<rect x="1348.9" y="350.15" width="19.45" height="18.03" fill="#1f2c6c" stroke="#a0a0a0" stroke-width="1"/>
<rect x="1368.35" y="350.15" width="19.45" height="18.03" fill="#1f2c6c" stroke="#a0a0a0" stroke-width="1"/>
<rect x="1387.8" y="350.15" width="19.45" height="18.03" fill="#1f2c6c" stroke="#a0a0a0" stroke-width="1"/>
<rect x="1407.25" y="350.15" width="19.45" height="18.03" fill="#1f2c6c" stroke="#a0a0a0" stroke-width="1"/>
<rect x="1426.7" y="350.15" width="19.45" height="18.03" fill="#1f2c6c" stroke="#a0a0a0" stroke-width="1"/>
<rect x="1446.15" y="350.15" width="19.45" height="18.03" fill="#1f2c6c" stroke="#a0a0a0" stroke-width="1"/>
<rect x="1465.6" y="350.15" width="19.45" height="18.03" fill="#1f2c6c" stroke="#a0a0a0" stroke-width="1"/>
<rect x="1485.05" y="350.15" width="19.45" height="18.03" fill="#1f2c6c" stroke="#a0a0a0" stroke-width="1"/>
<rect x="1081.2" y="260" width="14.1" height="18.03" fill="#c51b7d" stroke="#a0a0a0" stroke-width="1"/>
<rect x="1097.6" y="260" width="14.2" height="18.03" fill="#e8191c" stroke="#a0a0a0" stroke-width="1"/>
<rect x="1081.2" y="278.03" width="14.1" height="18.03" fill="#c51b7d" stroke="#a0a0a0" stroke-width="1"/>
<rect x="1097.6" y="278.03" width="14.2" height="18.03" fill="#e8191c" stroke="#a0a0a0" stroke-width="1"/>
<rect x="1081.2" y="296.06" width="14.1" height="18.03" fill="#c51b7d" stroke="#a0a0a0" stroke-width="1"/>
<rect x="1097.6" y="296.06" width="14.2" height="18.03" fill="#e8191c" stroke="#a0a0a0" stroke-width="1"/>
<rect x="1081.2" y="314.09" width="14.1" height="18.03" fill="#c51b7d" stroke="#a0a0a0" stroke-width="1"/>
<rect x="1097.6" y="314.09" width="14.2" height="18.03" fill="#e8191c" stroke="#a0a0a0" stroke-width="1"/>
<rect x="1081.2" y="332.12" width="14.1" height="18.03" fill="#c51b7d" stroke="#a0a0a0" stroke-width="1"/>
<rect x="1097.6" y="332.12" width="14.2" height="18.03" fill="#e8191c" stroke="#a0a0a0" stroke-width="1"/>
<rect x="1081.2" y="350.15" width="14.1" height="18.03" fill="#c51b7d" stroke="#a0a0a0" stroke-width="1"/>
<rect x="1097.6" y="350.15" width="14.2" height="18.03" fill="#e8191c" stroke="#a0a0a0" stroke-width="1"/>
<path d="M1183.58 244.6L1183.58 242.8M1203.03 244.6L1203.03 242.8M1183.58 242.8L1203.03 242.8M1222.47 244.6L1222.47 242.8M1241.92 244.6L1241.92 242.8M1222.47 242.8L1241.92 242.8M1193.3 242.8L1193.3 241M1232.2 242.8L1232.2 241M1193.3 241L1232.2 241M1164.12 244.6L1164.12 240.5M1212.75 241L1212.75 240.5M1164.12 240.5L1212.75 240.5M1144.67 244.6L1144.67 239.7M1188.44 240.5L1188.44 239.7M1144.67 239.7L1188.44 239.7M1125.22 244.6L1125.22 236.3M1166.56 239.7L1166.56 236.3M1125.22 236.3L1166.56 236.3M1319.72 244.6L1319.72 242.5M1339.17 244.6L1339.17 242.5M1319.72 242.5L1339.17 242.5M1300.28 244.6L1300.28 241.3M1329.45 242.5L1329.45 241.3M1300.28 241.3L1329.45 241.3M1280.83 244.6L1280.83 240M1314.86 241.3L1314.86 240M1280.83 240L1314.86 240M1261.38 244.6L1261.38 232.5M1297.84 240L1297.84 232.5M1261.38 232.5L1297.84 232.5M1145.89 236.3L1145.89 222.1M1279.61 232.5L1279.61 222.1M1145.89 222.1L1279.61 222.1M1358.62 244.6L1358.62 238.3M1378.08 244.6L1378.08 238.3M1358.62 238.3L1378.08 238.3M1416.97 244.6L1416.97 243.5M1436.42 244.6L1436.42 243.5M1416.97 243.5L1436.42 243.5M1397.53 244.6L1397.53 239.8M1426.7 243.5L1426.7 239.8M1397.53 239.8L1426.7 239.8M1475.33 244.6L1475.33 239.6M1494.78 244.6L1494.78 239.6M1475.33 239.6L1494.78 239.6M1455.88 244.6L1455.88 235.6M1485.05 239.6L1485.05 235.6M1455.88 235.6L1485.05 235.6M1412.11 239.8L1412.11 230.6M1470.46 235.6L1470.46 230.6M1412.11 230.6L1470.46 230.6M1368.35 238.3L1368.35 215.6M1441.29 230.6L1441.29 215.6M1368.35 215.6L1441.29 215.6M1212.75 222.1L1212.75 184.8M1404.82 215.6L1404.82 184.8M1212.75 184.8L1404.82 184.8" fill="none" stroke="#262626" stroke-width="1.3"/>
<path d="M1080.3 341.13L1079 341.13M1080.3 359.17L1079 359.17M1079 341.13L1079 359.17M1080.3 323.11L1077.5 323.11M1079 350.15L1077.5 350.15M1077.5 323.11L1077.5 350.15M1080.3 305.07L1075.5 305.07M1077.5 336.63L1075.5 336.63M1075.5 305.07L1075.5 336.63M1080.3 287.05L1073.4 287.05M1075.5 320.85L1073.4 320.85M1073.4 287.05L1073.4 320.85M1080.3 269.01L1008 269.01M1073.4 303.95L1008 303.95M1008 269.01L1008 303.95" fill="none" stroke="#262626" stroke-width="1.3"/>
<text x="1508.8" y="255" font-size="11.3" font-weight="bold" textLength="40.4" lengthAdjust="spacingAndGlyphs">Group</text>
<text x="1508.8" y="273.2" font-size="11.3" textLength="89.2" lengthAdjust="spacingAndGlyphs">Proteobacteria</text>
<text x="1508.8" y="290.8" font-size="11.3" textLength="93.2" lengthAdjust="spacingAndGlyphs">Deferribacteres</text>
<text x="1508.8" y="309.3" font-size="11.3" textLength="87.1" lengthAdjust="spacingAndGlyphs">Actinobacteria</text>
<text x="1508.8" y="327.1" font-size="11.3" textLength="179.7" lengthAdjust="spacingAndGlyphs">Candidatus_Saccharibacteria</text>
<text x="1508.8" y="345.4" font-size="11.3" textLength="69.9" lengthAdjust="spacingAndGlyphs">Tenericutes</text>
<text x="1508.8" y="363" font-size="11.3" textLength="162.1" lengthAdjust="spacingAndGlyphs">Cyanobacteria/Chloroplast</text>
<text x="0" y="0" font-size="11" transform="translate(1120.62 373) scale(1.2 1) rotate(90)">PPI_4</text>
<text x="0" y="0" font-size="11" transform="translate(1140.08 373) scale(1.2 1) rotate(90)">Control_9</text>
<text x="0" y="0" font-size="11" transform="translate(1159.53 373) scale(1.2 1) rotate(90)">Control_7</text>
<text x="0" y="0" font-size="11" transform="translate(1178.98 373) scale(1.2 1) rotate(90)">Control_6</text>
<text x="0" y="0" font-size="11" transform="translate(1198.43 373) scale(1.2 1) rotate(90)">UC_10</text>
<text x="0" y="0" font-size="11" transform="translate(1217.88 373) scale(1.2 1) rotate(90)">Control_10</text>
<text x="0" y="0" font-size="11" transform="translate(1237.33 373) scale(1.2 1) rotate(90)">UC_8</text>
<text x="0" y="0" font-size="11" transform="translate(1256.78 373) scale(1.2 1) rotate(90)">Control_8</text>
<text x="0" y="0" font-size="11" transform="translate(1276.23 373) scale(1.2 1) rotate(90)">PPI_2</text>
<text x="0" y="0" font-size="11" transform="translate(1295.68 373) scale(1.2 1) rotate(90)">PPI_5</text>
<text x="0" y="0" font-size="11" transform="translate(1315.12 373) scale(1.2 1) rotate(90)">PPI_1</text>
<text x="0" y="0" font-size="11" transform="translate(1334.58 373) scale(1.2 1) rotate(90)">PPI_3</text>
<text x="0" y="0" font-size="11" transform="translate(1354.03 373) scale(1.2 1) rotate(90)">UC_7</text>
<text x="0" y="0" font-size="11" transform="translate(1373.48 373) scale(1.2 1) rotate(90)">UC_9</text>
<text x="0" y="0" font-size="11" transform="translate(1392.93 373) scale(1.2 1) rotate(90)">UC_2</text>
<text x="0" y="0" font-size="11" transform="translate(1412.38 373) scale(1.2 1) rotate(90)">UC_3</text>
<text x="0" y="0" font-size="11" transform="translate(1431.83 373) scale(1.2 1) rotate(90)">UC_4</text>
<text x="0" y="0" font-size="11" transform="translate(1451.28 373) scale(1.2 1) rotate(90)">UC_6</text>
<text x="0" y="0" font-size="11" transform="translate(1470.73 373) scale(1.2 1) rotate(90)">UC_1</text>
<text x="0" y="0" font-size="11" transform="translate(1490.18 373) scale(1.2 1) rotate(90)">UC_5</text>
<text x="0" y="0" font-size="11" font-weight="bold" transform="translate(1083.3 373) scale(1.05 1) rotate(90)">Taxon</text>
<text x="0" y="0" font-size="11" font-weight="bold" transform="translate(1100.3 373) scale(1.05 1) rotate(90)">Sig</text>
<rect x="1698.3" y="411.17" width="13.9" height="3.33" fill="#32723e" shape-rendering="crispEdges"/>
<rect x="1698.3" y="408.34" width="13.9" height="3.33" fill="#72a333" shape-rendering="crispEdges"/>
<rect x="1698.3" y="405.51" width="13.9" height="3.33" fill="#c2d429" shape-rendering="crispEdges"/>
<rect x="1698.3" y="402.69" width="13.9" height="3.33" fill="#d0db2a" shape-rendering="crispEdges"/>
<rect x="1698.3" y="399.86" width="13.9" height="3.33" fill="#d9df2c" shape-rendering="crispEdges"/>
<rect x="1698.3" y="397.03" width="13.9" height="3.33" fill="#e1e32e" shape-rendering="crispEdges"/>
<rect x="1698.3" y="394.2" width="13.9" height="3.33" fill="#e8e630" shape-rendering="crispEdges"/>
<rect x="1698.3" y="391.37" width="13.9" height="3.33" fill="#e7e430" shape-rendering="crispEdges"/>
<rect x="1698.3" y="388.55" width="13.9" height="3.33" fill="#e6e22f" shape-rendering="crispEdges"/>
<rect x="1698.3" y="385.72" width="13.9" height="3.33" fill="#e5e02f" shape-rendering="crispEdges"/>
<rect x="1698.3" y="382.89" width="13.9" height="3.33" fill="#e5de2e" shape-rendering="crispEdges"/>
<rect x="1698.3" y="380.06" width="13.9" height="3.33" fill="#e4db2e" shape-rendering="crispEdges"/>
<rect x="1698.3" y="377.23" width="13.9" height="3.33" fill="#e2d52b" shape-rendering="crispEdges"/>
<rect x="1698.3" y="374.4" width="13.9" height="3.33" fill="#e0cf29" shape-rendering="crispEdges"/>
<rect x="1698.3" y="371.57" width="13.9" height="3.33" fill="#dec927" shape-rendering="crispEdges"/>
<rect x="1698.3" y="368.75" width="13.9" height="3.33" fill="#dcc425" shape-rendering="crispEdges"/>
<rect x="1698.3" y="365.92" width="13.9" height="3.33" fill="#dabe22" shape-rendering="crispEdges"/>
<rect x="1698.3" y="363.09" width="13.9" height="3.33" fill="#d8b820" shape-rendering="crispEdges"/>
<rect x="1698.3" y="360.26" width="13.9" height="3.33" fill="#d5b220" shape-rendering="crispEdges"/>
<rect x="1698.3" y="357.43" width="13.9" height="3.33" fill="#d3ab1f" shape-rendering="crispEdges"/>
<rect x="1698.3" y="354.61" width="13.9" height="3.33" fill="#d0a51f" shape-rendering="crispEdges"/>
<rect x="1698.3" y="351.78" width="13.9" height="3.33" fill="#ce9e1f" shape-rendering="crispEdges"/>
<rect x="1698.3" y="348.95" width="13.9" height="3.33" fill="#cb981e" shape-rendering="crispEdges"/>
<rect x="1698.3" y="346.12" width="13.9" height="3.33" fill="#c9921e" shape-rendering="crispEdges"/>
<rect x="1698.3" y="343.29" width="13.9" height="3.33" fill="#c78c1e" shape-rendering="crispEdges"/>
<rect x="1698.3" y="340.46" width="13.9" height="3.33" fill="#c6871f" shape-rendering="crispEdges"/>
<rect x="1698.3" y="337.63" width="13.9" height="3.33" fill="#c4821f" shape-rendering="crispEdges"/>
<rect x="1698.3" y="334.81" width="13.9" height="3.33" fill="#c37d1f" shape-rendering="crispEdges"/>
<rect x="1698.3" y="331.98" width="13.9" height="3.33" fill="#c27720" shape-rendering="crispEdges"/>
<rect x="1698.3" y="329.15" width="13.9" height="3.33" fill="#c17220" shape-rendering="crispEdges"/>
<rect x="1698.3" y="326.32" width="13.9" height="3.33" fill="#bf6e20" shape-rendering="crispEdges"/>
<rect x="1698.3" y="323.49" width="13.9" height="3.33" fill="#be6a20" shape-rendering="crispEdges"/>
<rect x="1698.3" y="320.67" width="13.9" height="3.33" fill="#bd6620" shape-rendering="crispEdges"/>
<rect x="1698.3" y="317.84" width="13.9" height="3.33" fill="#bb621f" shape-rendering="crispEdges"/>
<rect x="1698.3" y="315.01" width="13.9" height="3.33" fill="#ba5e1f" shape-rendering="crispEdges"/>
<rect x="1698.3" y="312.18" width="13.9" height="3.33" fill="#b95b1f" shape-rendering="crispEdges"/>
<rect x="1698.3" y="309.35" width="13.9" height="3.33" fill="#b7571f" shape-rendering="crispEdges"/>
<rect x="1698.3" y="306.52" width="13.9" height="3.33" fill="#b5541f" shape-rendering="crispEdges"/>
<rect x="1698.3" y="303.69" width="13.9" height="3.33" fill="#b3501f" shape-rendering="crispEdges"/>
<rect x="1698.3" y="300.87" width="13.9" height="3.33" fill="#b14d1f" shape-rendering="crispEdges"/>
<rect x="1698.3" y="298.04" width="13.9" height="3.33" fill="#af491f" shape-rendering="crispEdges"/>
<rect x="1698.3" y="295.21" width="13.9" height="3.33" fill="#ad461f" shape-rendering="crispEdges"/>
<rect x="1698.3" y="292.38" width="13.9" height="3.33" fill="#ab431f" shape-rendering="crispEdges"/>
<rect x="1698.3" y="289.55" width="13.9" height="3.33" fill="#a93f1f" shape-rendering="crispEdges"/>
<rect x="1698.3" y="286.73" width="13.9" height="3.33" fill="#a73c1f" shape-rendering="crispEdges"/>
<rect x="1698.3" y="283.9" width="13.9" height="3.33" fill="#a5381f" shape-rendering="crispEdges"/>
<rect x="1698.3" y="281.07" width="13.9" height="3.33" fill="#a3351f" shape-rendering="crispEdges"/>
<rect x="1698.3" y="278.24" width="13.9" height="3.33" fill="#a1321f" shape-rendering="crispEdges"/>
<rect x="1698.3" y="275.41" width="13.9" height="3.33" fill="#9f2f1f" shape-rendering="crispEdges"/>
<rect x="1698.3" y="272.58" width="13.9" height="3.33" fill="#9d2d1f" shape-rendering="crispEdges"/>
<rect x="1698.3" y="269.75" width="13.9" height="3.33" fill="#9b2b1f" shape-rendering="crispEdges"/>
<rect x="1698.3" y="266.93" width="13.9" height="3.33" fill="#9a2a1f" shape-rendering="crispEdges"/>
<rect x="1698.3" y="264.1" width="13.9" height="3.33" fill="#98281f" shape-rendering="crispEdges"/>
<rect x="1698.3" y="261.27" width="13.9" height="3.33" fill="#96261f" shape-rendering="crispEdges"/>
<rect x="1698.3" y="258.44" width="13.9" height="3.33" fill="#94241e" shape-rendering="crispEdges"/>
<rect x="1698.3" y="255.61" width="13.9" height="3.33" fill="#92221e" shape-rendering="crispEdges"/>
<rect x="1698.3" y="252.79" width="13.9" height="3.33" fill="#90201e" shape-rendering="crispEdges"/>
<rect x="1698.3" y="249.96" width="13.9" height="3.33" fill="#8f1f1e" shape-rendering="crispEdges"/>
<rect x="1698.3" y="247.13" width="13.9" height="3.33" fill="#8d1d1e" shape-rendering="crispEdges"/>
<rect x="1698.3" y="244.3" width="13.9" height="3.33" fill="#8b1b1e" shape-rendering="crispEdges"/>
<text x="1717.9" y="248" font-size="10.4" textLength="54.5" lengthAdjust="spacingAndGlyphs">30.052%</text>
<text x="1717.9" y="282.4" font-size="10.4" textLength="54.5" lengthAdjust="spacingAndGlyphs">24.042%</text>
<text x="1717.9" y="316" font-size="10.4" textLength="54.5" lengthAdjust="spacingAndGlyphs">18.032%</text>
<text x="1717.9" y="349.9" font-size="10.4" textLength="54.5" lengthAdjust="spacingAndGlyphs">12.021%</text>
<text x="1717.9" y="384.1" font-size="10.4" textLength="46.8" lengthAdjust="spacingAndGlyphs">6.011%</text>
<text x="1717.9" y="417.5" font-size="10.4" textLength="21.5" lengthAdjust="spacingAndGlyphs">0%</text>
<text x="1797.6" y="252.1" font-size="10.4" font-weight="bold" textLength="40.5" lengthAdjust="spacingAndGlyphs">Group</text>
<rect x="1796.6" y="256.3" width="19.9" height="16.23" fill="#2178b5" stroke="#a0a0a0" stroke-width="1"/>
<text x="1820.9" y="268.6" font-size="10.4" textLength="43.5" lengthAdjust="spacingAndGlyphs">Control</text>
<rect x="1796.6" y="272.53" width="19.9" height="16.23" fill="#f0821e" stroke="#a0a0a0" stroke-width="1"/>
<text x="1820.9" y="284.8" font-size="10.4" textLength="21" lengthAdjust="spacingAndGlyphs">PPI</text>
<rect x="1796.6" y="288.76" width="19.9" height="16.23" fill="#d42a2a" stroke="#a0a0a0" stroke-width="1"/>
<text x="1820.9" y="300.8" font-size="10.4" textLength="19.2" lengthAdjust="spacingAndGlyphs">UC</text>
<text x="1797.6" y="325.6" font-size="10.4" font-weight="bold" textLength="38" lengthAdjust="spacingAndGlyphs">Taxon</text>
<rect x="1796.6" y="329.8" width="19.9" height="15.7" fill="#c51b7d" stroke="#a0a0a0" stroke-width="1"/>
<text x="1820.9" y="341.8" font-size="10.4" textLength="50" lengthAdjust="spacingAndGlyphs">Bacteria</text>
<text x="1797.6" y="366.2" font-size="10.4" font-weight="bold" textLength="20.6" lengthAdjust="spacingAndGlyphs">Sig</text>
<rect x="1796.6" y="370.6" width="19.9" height="15.8" fill="#e8191c" stroke="#a0a0a0" stroke-width="1"/>
<rect x="1796.6" y="386.4" width="19.9" height="16.1" fill="#1f4ea8" stroke="#a0a0a0" stroke-width="1"/>
<text x="1820.9" y="382.6" font-size="10.4" textLength="67.5" lengthAdjust="spacingAndGlyphs">Pval &lt; 0.05</text>
<text x="1820.9" y="398.2" font-size="10.4" textLength="75.5" lengthAdjust="spacingAndGlyphs">Pval &gt;= 0.05</text>
<rect x="1116.4" y="717.3" width="16" height="14.2" fill="#2178b5" stroke="#a0a0a0" stroke-width="1"/>
<rect x="1132.4" y="717.3" width="16" height="14.2" fill="#2178b5" stroke="#a0a0a0" stroke-width="1"/>
<rect x="1148.4" y="717.3" width="16" height="14.2" fill="#2178b5" stroke="#a0a0a0" stroke-width="1"/>
<rect x="1164.4" y="717.3" width="16" height="14.2" fill="#2178b5" stroke="#a0a0a0" stroke-width="1"/>
<rect x="1180.4" y="717.3" width="16" height="14.2" fill="#d42a2a" stroke="#a0a0a0" stroke-width="1"/>
<rect x="1196.4" y="717.3" width="16" height="14.2" fill="#d42a2a" stroke="#a0a0a0" stroke-width="1"/>
<rect x="1212.4" y="717.3" width="16" height="14.2" fill="#d42a2a" stroke="#a0a0a0" stroke-width="1"/>
<rect x="1228.4" y="717.3" width="16" height="14.2" fill="#d42a2a" stroke="#a0a0a0" stroke-width="1"/>
<rect x="1244.4" y="717.3" width="16" height="14.2" fill="#f0821e" stroke="#a0a0a0" stroke-width="1"/>
<rect x="1260.4" y="717.3" width="16" height="14.2" fill="#2178b5" stroke="#a0a0a0" stroke-width="1"/>
<rect x="1276.4" y="717.3" width="16" height="14.2" fill="#f0821e" stroke="#a0a0a0" stroke-width="1"/>
<rect x="1292.4" y="717.3" width="16" height="14.2" fill="#d42a2a" stroke="#a0a0a0" stroke-width="1"/>
<rect x="1308.4" y="717.3" width="16" height="14.2" fill="#d42a2a" stroke="#a0a0a0" stroke-width="1"/>
<rect x="1324.4" y="717.3" width="16" height="14.2" fill="#d42a2a" stroke="#a0a0a0" stroke-width="1"/>
<rect x="1340.4" y="717.3" width="16" height="14.2" fill="#d42a2a" stroke="#a0a0a0" stroke-width="1"/>
<rect x="1356.4" y="717.3" width="16" height="14.2" fill="#d42a2a" stroke="#a0a0a0" stroke-width="1"/>
<rect x="1372.4" y="717.3" width="16" height="14.2" fill="#d42a2a" stroke="#a0a0a0" stroke-width="1"/>
<rect x="1388.4" y="717.3" width="16" height="14.2" fill="#f0821e" stroke="#a0a0a0" stroke-width="1"/>
<rect x="1404.4" y="717.3" width="16" height="14.2" fill="#f0821e" stroke="#a0a0a0" stroke-width="1"/>
<rect x="1420.4" y="717.3" width="16" height="14.2" fill="#f0821e" stroke="#a0a0a0" stroke-width="1"/>
<rect x="1116.4" y="735.2" width="16" height="22.03" fill="#7fb030" stroke="#a0a0a0" stroke-width="1"/>
<rect x="1132.4" y="735.2" width="16" height="22.03" fill="#dca31a" stroke="#a0a0a0" stroke-width="1"/>
<rect x="1148.4" y="735.2" width="16" height="22.03" fill="#e2bd1b" stroke="#a0a0a0" stroke-width="1"/>
<rect x="1164.4" y="735.2" width="16" height="22.03" fill="#e0b41b" stroke="#a0a0a0" stroke-width="1"/>
<rect x="1180.4" y="735.2" width="16" height="22.03" fill="#dcaa1a" stroke="#a0a0a0" stroke-width="1"/>
<rect x="1196.4" y="735.2" width="16" height="22.03" fill="#deac1a" stroke="#a0a0a0" stroke-width="1"/>
<rect x="1212.4" y="735.2" width="16" height="22.03" fill="#dcab1a" stroke="#a0a0a0" stroke-width="1"/>
<rect x="1228.4" y="735.2" width="16" height="22.03" fill="#e0b31b" stroke="#a0a0a0" stroke-width="1"/>
<rect x="1244.4" y="735.2" width="16" height="22.03" fill="#b8601f" stroke="#a0a0a0" stroke-width="1"/>
<rect x="1260.4" y="735.2" width="16" height="22.03" fill="#d4981a" stroke="#a0a0a0" stroke-width="1"/>
<rect x="1276.4" y="735.2" width="16" height="22.03" fill="#dca51a" stroke="#a0a0a0" stroke-width="1"/>
<rect x="1292.4" y="735.2" width="16" height="22.03" fill="#d08a1a" stroke="#a0a0a0" stroke-width="1"/>
<rect x="1308.4" y="735.2" width="16" height="22.03" fill="#cc7d1c" stroke="#a0a0a0" stroke-width="1"/>
<rect x="1324.4" y="735.2" width="16" height="22.03" fill="#cc7d1c" stroke="#a0a0a0" stroke-width="1"/>
<rect x="1340.4" y="735.2" width="16" height="22.03" fill="#b8601f" stroke="#a0a0a0" stroke-width="1"/>
<rect x="1356.4" y="735.2" width="16" height="22.03" fill="#c8781e" stroke="#a0a0a0" stroke-width="1"/>
<rect x="1372.4" y="735.2" width="16" height="22.03" fill="#a03020" stroke="#a0a0a0" stroke-width="1"/>
<rect x="1388.4" y="735.2" width="16" height="22.03" fill="#a02a22" stroke="#a0a0a0" stroke-width="1"/>
<rect x="1404.4" y="735.2" width="16" height="22.03" fill="#8a1a1e" stroke="#a0a0a0" stroke-width="1"/>
<rect x="1420.4" y="735.2" width="16" height="22.03" fill="#8c1a1e" stroke="#a0a0a0" stroke-width="1"/>
<rect x="1116.4" y="757.23" width="16" height="22.03" fill="#b85a20" stroke="#a0a0a0" stroke-width="1"/>
<rect x="1132.4" y="757.23" width="16" height="22.03" fill="#b45520" stroke="#a0a0a0" stroke-width="1"/>
<rect x="1148.4" y="757.23" width="16" height="22.03" fill="#c06820" stroke="#a0a0a0" stroke-width="1"/>
<rect x="1164.4" y="757.23" width="16" height="22.03" fill="#c46e20" stroke="#a0a0a0" stroke-width="1"/>
<rect x="1180.4" y="757.23" width="16" height="22.03" fill="#e2b81b" stroke="#a0a0a0" stroke-width="1"/>
<rect x="1196.4" y="757.23" width="16" height="22.03" fill="#e0b51b" stroke="#a0a0a0" stroke-width="1"/>
<rect x="1212.4" y="757.23" width="16" height="22.03" fill="#88b82c" stroke="#a0a0a0" stroke-width="1"/>
<rect x="1228.4" y="757.23" width="16" height="22.03" fill="#a0c828" stroke="#a0a0a0" stroke-width="1"/>
<rect x="1244.4" y="757.23" width="16" height="22.03" fill="#d8981a" stroke="#a0a0a0" stroke-width="1"/>
<rect x="1260.4" y="757.23" width="16" height="22.03" fill="#d8981a" stroke="#a0a0a0" stroke-width="1"/>
<rect x="1276.4" y="757.23" width="16" height="22.03" fill="#ece63a" stroke="#a0a0a0" stroke-width="1"/>
<rect x="1292.4" y="757.23" width="16" height="22.03" fill="#e0b41b" stroke="#a0a0a0" stroke-width="1"/>
<rect x="1308.4" y="757.23" width="16" height="22.03" fill="#e6e035" stroke="#a0a0a0" stroke-width="1"/>
<rect x="1324.4" y="757.23" width="16" height="22.03" fill="#dca81a" stroke="#a0a0a0" stroke-width="1"/>
<rect x="1340.4" y="757.23" width="16" height="22.03" fill="#dcab1a" stroke="#a0a0a0" stroke-width="1"/>
<rect x="1356.4" y="757.23" width="16" height="22.03" fill="#dcaa1a" stroke="#a0a0a0" stroke-width="1"/>
<rect x="1372.4" y="757.23" width="16" height="22.03" fill="#a8cc25" stroke="#a0a0a0" stroke-width="1"/>
<rect x="1388.4" y="757.23" width="16" height="22.03" fill="#e6e035" stroke="#a0a0a0" stroke-width="1"/>
<rect x="1404.4" y="757.23" width="16" height="22.03" fill="#112a55" stroke="#a0a0a0" stroke-width="1"/>
<rect x="1420.4" y="757.23" width="16" height="22.03" fill="#1f2c6c" stroke="#a0a0a0" stroke-width="1"/>
<rect x="1116.4" y="779.26" width="16" height="22.03" fill="#e6e030" stroke="#a0a0a0" stroke-width="1"/>
<rect x="1132.4" y="779.26" width="16" height="22.03" fill="#c0d820" stroke="#a0a0a0" stroke-width="1"/>
<rect x="1148.4" y="779.26" width="16" height="22.03" fill="#a8cc25" stroke="#a0a0a0" stroke-width="1"/>
<rect x="1164.4" y="779.26" width="16" height="22.03" fill="#ece635" stroke="#a0a0a0" stroke-width="1"/>
<rect x="1180.4" y="779.26" width="16" height="22.03" fill="#e2b81b" stroke="#a0a0a0" stroke-width="1"/>
<rect x="1196.4" y="779.26" width="16" height="22.03" fill="#dfae1a" stroke="#a0a0a0" stroke-width="1"/>
<rect x="1212.4" y="779.26" width="16" height="22.03" fill="#e0b41b" stroke="#a0a0a0" stroke-width="1"/>
<rect x="1228.4" y="779.26" width="16" height="22.03" fill="#dca81a" stroke="#a0a0a0" stroke-width="1"/>
<rect x="1244.4" y="779.26" width="16" height="22.03" fill="#177035" stroke="#a0a0a0" stroke-width="1"/>
<rect x="1260.4" y="779.26" width="16" height="22.03" fill="#c0d820" stroke="#a0a0a0" stroke-width="1"/>
<rect x="1276.4" y="779.26" width="16" height="22.03" fill="#55a038" stroke="#a0a0a0" stroke-width="1"/>
<rect x="1292.4" y="779.26" width="16" height="22.03" fill="#dca81a" stroke="#a0a0a0" stroke-width="1"/>
<rect x="1308.4" y="779.26" width="16" height="22.03" fill="#80b02a" stroke="#a0a0a0" stroke-width="1"/>
<rect x="1324.4" y="779.26" width="16" height="22.03" fill="#a0c825" stroke="#a0a0a0" stroke-width="1"/>
<rect x="1340.4" y="779.26" width="16" height="22.03" fill="#ece640" stroke="#a0a0a0" stroke-width="1"/>
<rect x="1356.4" y="779.26" width="16" height="22.03" fill="#6aa832" stroke="#a0a0a0" stroke-width="1"/>
<rect x="1372.4" y="779.26" width="16" height="22.03" fill="#c0d820" stroke="#a0a0a0" stroke-width="1"/>
<rect x="1388.4" y="779.26" width="16" height="22.03" fill="#c0d820" stroke="#a0a0a0" stroke-width="1"/>
<rect x="1404.4" y="779.26" width="16" height="22.03" fill="#98c025" stroke="#a0a0a0" stroke-width="1"/>
<rect x="1420.4" y="779.26" width="16" height="22.03" fill="#3a8f3a" stroke="#a0a0a0" stroke-width="1"/>
<rect x="1116.4" y="801.29" width="16" height="22.03" fill="#e0b41b" stroke="#a0a0a0" stroke-width="1"/>
<rect x="1132.4" y="801.29" width="16" height="22.03" fill="#e8e230" stroke="#a0a0a0" stroke-width="1"/>
<rect x="1148.4" y="801.29" width="16" height="22.03" fill="#7ab02c" stroke="#a0a0a0" stroke-width="1"/>
<rect x="1164.4" y="801.29" width="16" height="22.03" fill="#1f7d3a" stroke="#a0a0a0" stroke-width="1"/>
<rect x="1180.4" y="801.29" width="16" height="22.03" fill="#b8d41e" stroke="#a0a0a0" stroke-width="1"/>
<rect x="1196.4" y="801.29" width="16" height="22.03" fill="#1f7a3a" stroke="#a0a0a0" stroke-width="1"/>
<rect x="1212.4" y="801.29" width="16" height="22.03" fill="#7cb02a" stroke="#a0a0a0" stroke-width="1"/>
<rect x="1228.4" y="801.29" width="16" height="22.03" fill="#1c7838" stroke="#a0a0a0" stroke-width="1"/>
<rect x="1244.4" y="801.29" width="16" height="22.03" fill="#3f9438" stroke="#a0a0a0" stroke-width="1"/>
<rect x="1260.4" y="801.29" width="16" height="22.03" fill="#1f7d3a" stroke="#a0a0a0" stroke-width="1"/>
<rect x="1276.4" y="801.29" width="16" height="22.03" fill="#2f8a3a" stroke="#a0a0a0" stroke-width="1"/>
<rect x="1292.4" y="801.29" width="16" height="22.03" fill="#e8d020" stroke="#a0a0a0" stroke-width="1"/>
<rect x="1308.4" y="801.29" width="16" height="22.03" fill="#8cba28" stroke="#a0a0a0" stroke-width="1"/>
<rect x="1324.4" y="801.29" width="16" height="22.03" fill="#a0c825" stroke="#a0a0a0" stroke-width="1"/>
<rect x="1340.4" y="801.29" width="16" height="22.03" fill="#cde025" stroke="#a0a0a0" stroke-width="1"/>
<rect x="1356.4" y="801.29" width="16" height="22.03" fill="#e0ae1a" stroke="#a0a0a0" stroke-width="1"/>
<rect x="1372.4" y="801.29" width="16" height="22.03" fill="#98c025" stroke="#a0a0a0" stroke-width="1"/>
<rect x="1388.4" y="801.29" width="16" height="22.03" fill="#0f5a2e" stroke="#a0a0a0" stroke-width="1"/>
<rect x="1404.4" y="801.29" width="16" height="22.03" fill="#1f2c6c" stroke="#a0a0a0" stroke-width="1"/>
<rect x="1420.4" y="801.29" width="16" height="22.03" fill="#1f2c6c" stroke="#a0a0a0" stroke-width="1"/>
<rect x="1116.4" y="823.32" width="16" height="22.03" fill="#1f2c6c" stroke="#a0a0a0" stroke-width="1"/>
<rect x="1132.4" y="823.32" width="16" height="22.03" fill="#1f2c6c" stroke="#a0a0a0" stroke-width="1"/>
<rect x="1148.4" y="823.32" width="16" height="22.03" fill="#1f2c6c" stroke="#a0a0a0" stroke-width="1"/>
<rect x="1164.4" y="823.32" width="16" height="22.03" fill="#136432" stroke="#a0a0a0" stroke-width="1"/>
<rect x="1180.4" y="823.32" width="16" height="22.03" fill="#6aa832" stroke="#a0a0a0" stroke-width="1"/>
<rect x="1196.4" y="823.32" width="16" height="22.03" fill="#5aa035" stroke="#a0a0a0" stroke-width="1"/>
<rect x="1212.4" y="823.32" width="16" height="22.03" fill="#258a3a" stroke="#a0a0a0" stroke-width="1"/>
<rect x="1228.4" y="823.32" width="16" height="22.03" fill="#3a9038" stroke="#a0a0a0" stroke-width="1"/>
<rect x="1244.4" y="823.32" width="16" height="22.03" fill="#1f2c6c" stroke="#a0a0a0" stroke-width="1"/>
<rect x="1260.4" y="823.32" width="16" height="22.03" fill="#105a30" stroke="#a0a0a0" stroke-width="1"/>
<rect x="1276.4" y="823.32" width="16" height="22.03" fill="#1f2c6c" stroke="#a0a0a0" stroke-width="1"/>
<rect x="1292.4" y="823.32" width="16" height="22.03" fill="#105a30" stroke="#a0a0a0" stroke-width="1"/>
<rect x="1308.4" y="823.32" width="16" height="22.03" fill="#105a30" stroke="#a0a0a0" stroke-width="1"/>
<rect x="1324.4" y="823.32" width="16" height="22.03" fill="#0d4a2c" stroke="#a0a0a0" stroke-width="1"/>
<rect x="1340.4" y="823.32" width="16" height="22.03" fill="#98c025" stroke="#a0a0a0" stroke-width="1"/>
<rect x="1356.4" y="823.32" width="16" height="22.03" fill="#2f8a3a" stroke="#a0a0a0" stroke-width="1"/>
<rect x="1372.4" y="823.32" width="16" height="22.03" fill="#e2b81b" stroke="#a0a0a0" stroke-width="1"/>
<rect x="1388.4" y="823.32" width="16" height="22.03" fill="#1f2c6c" stroke="#a0a0a0" stroke-width="1"/>
<rect x="1404.4" y="823.32" width="16" height="22.03" fill="#1f2c6c" stroke="#a0a0a0" stroke-width="1"/>
<rect x="1420.4" y="823.32" width="16" height="22.03" fill="#1f2c6c" stroke="#a0a0a0" stroke-width="1"/>
<rect x="1116.4" y="845.35" width="16" height="22.03" fill="#2f8a3a" stroke="#a0a0a0" stroke-width="1"/>
<rect x="1132.4" y="845.35" width="16" height="22.03" fill="#4e9a38" stroke="#a0a0a0" stroke-width="1"/>
<rect x="1148.4" y="845.35" width="16" height="22.03" fill="#6aa832" stroke="#a0a0a0" stroke-width="1"/>
<rect x="1164.4" y="845.35" width="16" height="22.03" fill="#b0cc20" stroke="#a0a0a0" stroke-width="1"/>
<rect x="1180.4" y="845.35" width="16" height="22.03" fill="#0f4f2e" stroke="#a0a0a0" stroke-width="1"/>
<rect x="1196.4" y="845.35" width="16" height="22.03" fill="#0f4f2e" stroke="#a0a0a0" stroke-width="1"/>
<rect x="1212.4" y="845.35" width="16" height="22.03" fill="#0f4f2e" stroke="#a0a0a0" stroke-width="1"/>
<rect x="1228.4" y="845.35" width="16" height="22.03" fill="#0f4f2e" stroke="#a0a0a0" stroke-width="1"/>
<rect x="1244.4" y="845.35" width="16" height="22.03" fill="#1a6e35" stroke="#a0a0a0" stroke-width="1"/>
<rect x="1260.4" y="845.35" width="16" height="22.03" fill="#dcdc2a" stroke="#a0a0a0" stroke-width="1"/>
<rect x="1276.4" y="845.35" width="16" height="22.03" fill="#0d4a2c" stroke="#a0a0a0" stroke-width="1"/>
<rect x="1292.4" y="845.35" width="16" height="22.03" fill="#92bc26" stroke="#a0a0a0" stroke-width="1"/>
<rect x="1308.4" y="845.35" width="16" height="22.03" fill="#8cba28" stroke="#a0a0a0" stroke-width="1"/>
<rect x="1324.4" y="845.35" width="16" height="22.03" fill="#1f7a3a" stroke="#a0a0a0" stroke-width="1"/>
<rect x="1340.4" y="845.35" width="16" height="22.03" fill="#146a32" stroke="#a0a0a0" stroke-width="1"/>
<rect x="1356.4" y="845.35" width="16" height="22.03" fill="#146a32" stroke="#a0a0a0" stroke-width="1"/>
<rect x="1372.4" y="845.35" width="16" height="22.03" fill="#125e30" stroke="#a0a0a0" stroke-width="1"/>
<rect x="1388.4" y="845.35" width="16" height="22.03" fill="#6aa832" stroke="#a0a0a0" stroke-width="1"/>
<rect x="1404.4" y="845.35" width="16" height="22.03" fill="#80b02a" stroke="#a0a0a0" stroke-width="1"/>
<rect x="1420.4" y="845.35" width="16" height="22.03" fill="#0f4f2e" stroke="#a0a0a0" stroke-width="1"/>
<rect x="1116.4" y="867.38" width="16" height="22.03" fill="#1e2a60" stroke="#a0a0a0" stroke-width="1"/>
<rect x="1132.4" y="867.38" width="16" height="22.03" fill="#1f2c6c" stroke="#a0a0a0" stroke-width="1"/>
<rect x="1148.4" y="867.38" width="16" height="22.03" fill="#1f2c6c" stroke="#a0a0a0" stroke-width="1"/>
<rect x="1164.4" y="867.38" width="16" height="22.03" fill="#156a32" stroke="#a0a0a0" stroke-width="1"/>
<rect x="1180.4" y="867.38" width="16" height="22.03" fill="#1f2c6c" stroke="#a0a0a0" stroke-width="1"/>
<rect x="1196.4" y="867.38" width="16" height="22.03" fill="#1f2c6c" stroke="#a0a0a0" stroke-width="1"/>
<rect x="1212.4" y="867.38" width="16" height="22.03" fill="#1f2c6c" stroke="#a0a0a0" stroke-width="1"/>
<rect x="1228.4" y="867.38" width="16" height="22.03" fill="#1f2c6c" stroke="#a0a0a0" stroke-width="1"/>
<rect x="1244.4" y="867.38" width="16" height="22.03" fill="#12305a" stroke="#a0a0a0" stroke-width="1"/>
<rect x="1260.4" y="867.38" width="16" height="22.03" fill="#1f2c6c" stroke="#a0a0a0" stroke-width="1"/>
<rect x="1276.4" y="867.38" width="16" height="22.03" fill="#146a32" stroke="#a0a0a0" stroke-width="1"/>
<rect x="1292.4" y="867.38" width="16" height="22.03" fill="#1f2c6c" stroke="#a0a0a0" stroke-width="1"/>
<rect x="1308.4" y="867.38" width="16" height="22.03" fill="#125e30" stroke="#a0a0a0" stroke-width="1"/>
<rect x="1324.4" y="867.38" width="16" height="22.03" fill="#1f2c6c" stroke="#a0a0a0" stroke-width="1"/>
<rect x="1340.4" y="867.38" width="16" height="22.03" fill="#15305a" stroke="#a0a0a0" stroke-width="1"/>
<rect x="1356.4" y="867.38" width="16" height="22.03" fill="#1f2c6c" stroke="#a0a0a0" stroke-width="1"/>
<rect x="1372.4" y="867.38" width="16" height="22.03" fill="#1f2c6c" stroke="#a0a0a0" stroke-width="1"/>
<rect x="1388.4" y="867.38" width="16" height="22.03" fill="#135e30" stroke="#a0a0a0" stroke-width="1"/>
<rect x="1404.4" y="867.38" width="16" height="22.03" fill="#1f7a3a" stroke="#a0a0a0" stroke-width="1"/>
<rect x="1420.4" y="867.38" width="16" height="22.03" fill="#1f7a3a" stroke="#a0a0a0" stroke-width="1"/>
<rect x="1116.4" y="889.41" width="16" height="22.03" fill="#1f2c6c" stroke="#a0a0a0" stroke-width="1"/>
<rect x="1132.4" y="889.41" width="16" height="22.03" fill="#1f2c6c" stroke="#a0a0a0" stroke-width="1"/>
<rect x="1148.4" y="889.41" width="16" height="22.03" fill="#1f2c6c" stroke="#a0a0a0" stroke-width="1"/>
<rect x="1164.4" y="889.41" width="16" height="22.03" fill="#1f2c6c" stroke="#a0a0a0" stroke-width="1"/>
<rect x="1180.4" y="889.41" width="16" height="22.03" fill="#1f2c6c" stroke="#a0a0a0" stroke-width="1"/>
<rect x="1196.4" y="889.41" width="16" height="22.03" fill="#1f2c6c" stroke="#a0a0a0" stroke-width="1"/>
<rect x="1212.4" y="889.41" width="16" height="22.03" fill="#1f2c6c" stroke="#a0a0a0" stroke-width="1"/>
<rect x="1228.4" y="889.41" width="16" height="22.03" fill="#1f2c6c" stroke="#a0a0a0" stroke-width="1"/>
<rect x="1244.4" y="889.41" width="16" height="22.03" fill="#1f2c6c" stroke="#a0a0a0" stroke-width="1"/>
<rect x="1260.4" y="889.41" width="16" height="22.03" fill="#1f2c6c" stroke="#a0a0a0" stroke-width="1"/>
<rect x="1276.4" y="889.41" width="16" height="22.03" fill="#1f2c6c" stroke="#a0a0a0" stroke-width="1"/>
<rect x="1292.4" y="889.41" width="16" height="22.03" fill="#1f2c6c" stroke="#a0a0a0" stroke-width="1"/>
<rect x="1308.4" y="889.41" width="16" height="22.03" fill="#1f2c6c" stroke="#a0a0a0" stroke-width="1"/>
<rect x="1324.4" y="889.41" width="16" height="22.03" fill="#1f2c6c" stroke="#a0a0a0" stroke-width="1"/>
<rect x="1340.4" y="889.41" width="16" height="22.03" fill="#1f2c6c" stroke="#a0a0a0" stroke-width="1"/>
<rect x="1356.4" y="889.41" width="16" height="22.03" fill="#1f2c6c" stroke="#a0a0a0" stroke-width="1"/>
<rect x="1372.4" y="889.41" width="16" height="22.03" fill="#1f2c6c" stroke="#a0a0a0" stroke-width="1"/>
<rect x="1388.4" y="889.41" width="16" height="22.03" fill="#1f2c6c" stroke="#a0a0a0" stroke-width="1"/>
<rect x="1404.4" y="889.41" width="16" height="22.03" fill="#1f2c6c" stroke="#a0a0a0" stroke-width="1"/>
<rect x="1420.4" y="889.41" width="16" height="22.03" fill="#1f2c6c" stroke="#a0a0a0" stroke-width="1"/>
<rect x="1116.4" y="911.44" width="16" height="22.03" fill="#ece632" stroke="#a0a0a0" stroke-width="1"/>
<rect x="1132.4" y="911.44" width="16" height="22.03" fill="#e0b41b" stroke="#a0a0a0" stroke-width="1"/>
<rect x="1148.4" y="911.44" width="16" height="22.03" fill="#ece640" stroke="#a0a0a0" stroke-width="1"/>
<rect x="1164.4" y="911.44" width="16" height="22.03" fill="#dca81a" stroke="#a0a0a0" stroke-width="1"/>
<rect x="1180.4" y="911.44" width="16" height="22.03" fill="#e0b31b" stroke="#a0a0a0" stroke-width="1"/>
<rect x="1196.4" y="911.44" width="16" height="22.03" fill="#dca81a" stroke="#a0a0a0" stroke-width="1"/>
<rect x="1212.4" y="911.44" width="16" height="22.03" fill="#d8a01a" stroke="#a0a0a0" stroke-width="1"/>
<rect x="1228.4" y="911.44" width="16" height="22.03" fill="#d09a1a" stroke="#a0a0a0" stroke-width="1"/>
<rect x="1244.4" y="911.44" width="16" height="22.03" fill="#7cb02c" stroke="#a0a0a0" stroke-width="1"/>
<rect x="1260.4" y="911.44" width="16" height="22.03" fill="#d8a01a" stroke="#a0a0a0" stroke-width="1"/>
<rect x="1276.4" y="911.44" width="16" height="22.03" fill="#1a7035" stroke="#a0a0a0" stroke-width="1"/>
<rect x="1292.4" y="911.44" width="16" height="22.03" fill="#e4bc1b" stroke="#a0a0a0" stroke-width="1"/>
<rect x="1308.4" y="911.44" width="16" height="22.03" fill="#ecdf30" stroke="#a0a0a0" stroke-width="1"/>
<rect x="1324.4" y="911.44" width="16" height="22.03" fill="#a0c825" stroke="#a0a0a0" stroke-width="1"/>
<rect x="1340.4" y="911.44" width="16" height="22.03" fill="#e0b41b" stroke="#a0a0a0" stroke-width="1"/>
<rect x="1356.4" y="911.44" width="16" height="22.03" fill="#d8981a" stroke="#a0a0a0" stroke-width="1"/>
<rect x="1372.4" y="911.44" width="16" height="22.03" fill="#d09019" stroke="#a0a0a0" stroke-width="1"/>
<rect x="1388.4" y="911.44" width="16" height="22.03" fill="#1a7035" stroke="#a0a0a0" stroke-width="1"/>
<rect x="1404.4" y="911.44" width="16" height="22.03" fill="#ece63a" stroke="#a0a0a0" stroke-width="1"/>
<rect x="1420.4" y="911.44" width="16" height="22.03" fill="#3a8f3a" stroke="#a0a0a0" stroke-width="1"/>
<rect x="1116.4" y="933.47" width="16" height="22.03" fill="#145f30" stroke="#a0a0a0" stroke-width="1"/>
<rect x="1132.4" y="933.47" width="16" height="22.03" fill="#0a3a55" stroke="#a0a0a0" stroke-width="1"/>
<rect x="1148.4" y="933.47" width="16" height="22.03" fill="#145f30" stroke="#a0a0a0" stroke-width="1"/>
<rect x="1164.4" y="933.47" width="16" height="22.03" fill="#166032" stroke="#a0a0a0" stroke-width="1"/>
<rect x="1180.4" y="933.47" width="16" height="22.03" fill="#d8a01a" stroke="#a0a0a0" stroke-width="1"/>
<rect x="1196.4" y="933.47" width="16" height="22.03" fill="#ece640" stroke="#a0a0a0" stroke-width="1"/>
<rect x="1212.4" y="933.47" width="16" height="22.03" fill="#9ec82a" stroke="#a0a0a0" stroke-width="1"/>
<rect x="1228.4" y="933.47" width="16" height="22.03" fill="#e6e235" stroke="#a0a0a0" stroke-width="1"/>
<rect x="1244.4" y="933.47" width="16" height="22.03" fill="#142a5a" stroke="#a0a0a0" stroke-width="1"/>
<rect x="1260.4" y="933.47" width="16" height="22.03" fill="#135e30" stroke="#a0a0a0" stroke-width="1"/>
<rect x="1276.4" y="933.47" width="16" height="22.03" fill="#0e4a35" stroke="#a0a0a0" stroke-width="1"/>
<rect x="1292.4" y="933.47" width="16" height="22.03" fill="#8cba28" stroke="#a0a0a0" stroke-width="1"/>
<rect x="1308.4" y="933.47" width="16" height="22.03" fill="#ece640" stroke="#a0a0a0" stroke-width="1"/>
<rect x="1324.4" y="933.47" width="16" height="22.03" fill="#ece640" stroke="#a0a0a0" stroke-width="1"/>
<rect x="1340.4" y="933.47" width="16" height="22.03" fill="#b04a20" stroke="#a0a0a0" stroke-width="1"/>
<rect x="1356.4" y="933.47" width="16" height="22.03" fill="#d08a1a" stroke="#a0a0a0" stroke-width="1"/>
<rect x="1372.4" y="933.47" width="16" height="22.03" fill="#dca01a" stroke="#a0a0a0" stroke-width="1"/>
<rect x="1388.4" y="933.47" width="16" height="22.03" fill="#125e30" stroke="#a0a0a0" stroke-width="1"/>
<rect x="1404.4" y="933.47" width="16" height="22.03" fill="#125e30" stroke="#a0a0a0" stroke-width="1"/>
<rect x="1420.4" y="933.47" width="16" height="22.03" fill="#125e30" stroke="#a0a0a0" stroke-width="1"/>
<rect x="1082.1" y="735.2" width="13.8" height="22.03" fill="#c51b7d" stroke="#a0a0a0" stroke-width="1"/>
<rect x="1099" y="735.2" width="13.3" height="22.03" fill="#e8191c" stroke="#a0a0a0" stroke-width="1"/>
<rect x="1082.1" y="757.23" width="13.8" height="22.03" fill="#c51b7d" stroke="#a0a0a0" stroke-width="1"/>
<rect x="1099" y="757.23" width="13.3" height="22.03" fill="#e8191c" stroke="#a0a0a0" stroke-width="1"/>
<rect x="1082.1" y="779.26" width="13.8" height="22.03" fill="#d8a32a" stroke="#a0a0a0" stroke-width="1"/>
<rect x="1099" y="779.26" width="13.3" height="22.03" fill="#e8191c" stroke="#a0a0a0" stroke-width="1"/>
<rect x="1082.1" y="801.29" width="13.8" height="22.03" fill="#d8a32a" stroke="#a0a0a0" stroke-width="1"/>
<rect x="1099" y="801.29" width="13.3" height="22.03" fill="#e8191c" stroke="#a0a0a0" stroke-width="1"/>
<rect x="1082.1" y="823.32" width="13.8" height="22.03" fill="#e7808a" stroke="#a0a0a0" stroke-width="1"/>
<rect x="1099" y="823.32" width="13.3" height="22.03" fill="#e8191c" stroke="#a0a0a0" stroke-width="1"/>
<rect x="1082.1" y="845.35" width="13.8" height="22.03" fill="#7b1a8a" stroke="#a0a0a0" stroke-width="1"/>
<rect x="1099" y="845.35" width="13.3" height="22.03" fill="#e8191c" stroke="#a0a0a0" stroke-width="1"/>
<rect x="1082.1" y="867.38" width="13.8" height="22.03" fill="#1f5a99" stroke="#a0a0a0" stroke-width="1"/>
<rect x="1099" y="867.38" width="13.3" height="22.03" fill="#e8191c" stroke="#a0a0a0" stroke-width="1"/>
<rect x="1082.1" y="889.41" width="13.8" height="22.03" fill="#6b8e3b" stroke="#a0a0a0" stroke-width="1"/>
<rect x="1099" y="889.41" width="13.3" height="22.03" fill="#e8191c" stroke="#a0a0a0" stroke-width="1"/>
<rect x="1082.1" y="911.44" width="13.8" height="22.03" fill="#d8a32a" stroke="#a0a0a0" stroke-width="1"/>
<rect x="1099" y="911.44" width="13.3" height="22.03" fill="#e8191c" stroke="#a0a0a0" stroke-width="1"/>
<rect x="1082.1" y="933.47" width="13.8" height="22.03" fill="#d8a32a" stroke="#a0a0a0" stroke-width="1"/>
<rect x="1099" y="933.47" width="13.3" height="22.03" fill="#e8191c" stroke="#a0a0a0" stroke-width="1"/>
<path d="M1156.4 716.3L1156.4 708.9M1172.4 716.3L1172.4 708.9M1156.4 708.9L1172.4 708.9M1140.4 716.3L1140.4 704.9M1164.4 708.9L1164.4 704.9M1140.4 704.9L1164.4 704.9M1124.4 716.3L1124.4 701.5M1152.4 704.9L1152.4 701.5M1124.4 701.5L1152.4 701.5M1220.4 716.3L1220.4 710.7M1236.4 716.3L1236.4 710.7M1220.4 710.7L1236.4 710.7M1204.4 716.3L1204.4 707.3M1228.4 710.7L1228.4 707.3M1204.4 707.3L1228.4 707.3M1188.4 716.3L1188.4 700.2M1216.4 707.3L1216.4 700.2M1188.4 700.2L1216.4 700.2M1316.4 716.3L1316.4 706.2M1332.4 716.3L1332.4 706.2M1316.4 706.2L1332.4 706.2M1300.4 716.3L1300.4 701.5M1324.4 706.2L1324.4 701.5M1300.4 701.5L1324.4 701.5M1284.4 716.3L1284.4 698.3M1312.4 701.5L1312.4 698.3M1284.4 698.3L1312.4 698.3M1268.4 716.3L1268.4 695.4M1298.4 698.3L1298.4 695.4M1268.4 695.4L1298.4 695.4M1252.4 716.3L1252.4 692.3M1283.4 695.4L1283.4 692.3M1252.4 692.3L1283.4 692.3M1202.4 700.2L1202.4 679.9M1267.9 692.3L1267.9 679.9M1202.4 679.9L1267.9 679.9M1138.4 701.5L1138.4 674.7M1235.15 679.9L1235.15 674.7M1138.4 674.7L1235.15 674.7M1348.4 716.3L1348.4 692.3M1364.4 716.3L1364.4 692.3M1348.4 692.3L1364.4 692.3M1412.4 716.3L1412.4 710.2M1428.4 716.3L1428.4 710.2M1412.4 710.2L1428.4 710.2M1396.4 716.3L1396.4 701.5M1420.4 710.2L1420.4 701.5M1396.4 701.5L1420.4 701.5M1380.4 716.3L1380.4 685.7M1408.4 701.5L1408.4 685.7M1380.4 685.7L1408.4 685.7M1356.4 692.3L1356.4 664.7M1394.4 685.7L1394.4 664.7M1356.4 664.7L1394.4 664.7M1186.78 674.7L1186.78 644.2M1375.4 664.7L1375.4 644.2M1186.78 644.2L1375.4 644.2" fill="none" stroke="#262626" stroke-width="1.3"/>
<path d="M1081 878.39L1079.6 878.39M1081 900.43L1079.6 900.43M1079.6 878.39L1079.6 900.43M1081 856.37L1074.7 856.37M1079.6 889.41L1074.7 889.41M1074.7 856.37L1074.7 889.41M1081 834.34L1073.6 834.34M1074.7 872.89L1073.6 872.89M1073.6 834.34L1073.6 872.89M1081 812.31L1070.2 812.31M1073.6 853.61L1070.2 853.61M1070.2 812.31L1070.2 853.61M1081 790.28L1064.7 790.28M1070.2 832.96L1064.7 832.96M1064.7 790.28L1064.7 832.96M1081 922.46L1056.7 922.46M1081 944.49L1056.7 944.49M1056.7 922.46L1056.7 944.49M1064.7 811.62L1051.8 811.62M1056.7 933.47L1051.8 933.47M1051.8 811.62L1051.8 933.47M1081 768.25L1038 768.25M1051.8 872.54L1038 872.54M1038 768.25L1038 872.54M1081 746.22L1008.8 746.22M1038 820.39L1008.8 820.39M1008.8 746.22L1008.8 820.39" fill="none" stroke="#262626" stroke-width="1.3"/>
<text x="1441.3" y="729.7" font-size="13" font-weight="bold" textLength="39.8" lengthAdjust="spacingAndGlyphs">Group</text>
<text x="1441.3" y="751.3" font-size="13.5" textLength="35.2" lengthAdjust="spacingAndGlyphs">Bacilli</text>
<text x="1441.3" y="773.2" font-size="13.5" textLength="93" lengthAdjust="spacingAndGlyphs">Erysipelotrichia</text>
<text x="1441.3" y="795.4" font-size="13.5" textLength="119.8" lengthAdjust="spacingAndGlyphs">Deltaproteobacteria</text>
<text x="1441.3" y="817.3" font-size="13.5" textLength="115.3" lengthAdjust="spacingAndGlyphs">Betaproteobacteria</text>
<text x="1441.3" y="839" font-size="13.5" textLength="93" lengthAdjust="spacingAndGlyphs">Deferribacteres</text>
<text x="1441.3" y="860.9" font-size="13.5" textLength="86.4" lengthAdjust="spacingAndGlyphs">Actinobacteria</text>
<text x="1441.3" y="882.8" font-size="13.5" textLength="60.7" lengthAdjust="spacingAndGlyphs">Mollicutes</text>
<text x="1441.3" y="904.9" font-size="13.5" textLength="69.5" lengthAdjust="spacingAndGlyphs">Chloroplast</text>
<text x="1441.3" y="927.1" font-size="13.5" textLength="132.4" lengthAdjust="spacingAndGlyphs">Epsilonproteobacteria</text>
<text x="1441.3" y="949" font-size="13.5" textLength="136" lengthAdjust="spacingAndGlyphs">Gammaproteobacteria</text>
<text x="0" y="0" font-size="13.3" transform="translate(1120.1 960.6) scale(1 1) rotate(90)">Control_7</text>
<text x="0" y="0" font-size="13.3" transform="translate(1136.1 960.6) scale(1 1) rotate(90)">Control_6</text>
<text x="0" y="0" font-size="13.3" transform="translate(1152.1 960.6) scale(1 1) rotate(90)">Control_8</text>
<text x="0" y="0" font-size="13.3" transform="translate(1168.1 960.6) scale(1 1) rotate(90)">Control_10</text>
<text x="0" y="0" font-size="13.3" transform="translate(1184.1 960.6) scale(1 1) rotate(90)">UC_1</text>
<text x="0" y="0" font-size="13.3" transform="translate(1200.1 960.6) scale(1 1) rotate(90)">UC_4</text>
<text x="0" y="0" font-size="13.3" transform="translate(1216.1 960.6) scale(1 1) rotate(90)">UC_3</text>
<text x="0" y="0" font-size="13.3" transform="translate(1232.1 960.6) scale(1 1) rotate(90)">UC_5</text>
<text x="0" y="0" font-size="13.3" transform="translate(1248.1 960.6) scale(1 1) rotate(90)">PPI_1</text>
<text x="0" y="0" font-size="13.3" transform="translate(1264.1 960.6) scale(1 1) rotate(90)">Control_9</text>
<text x="0" y="0" font-size="13.3" transform="translate(1280.1 960.6) scale(1 1) rotate(90)">PPI_3</text>
<text x="0" y="0" font-size="13.3" transform="translate(1296.1 960.6) scale(1 1) rotate(90)">UC_2</text>
<text x="0" y="0" font-size="13.3" transform="translate(1312.1 960.6) scale(1 1) rotate(90)">UC_8</text>
<text x="0" y="0" font-size="13.3" transform="translate(1328.1 960.6) scale(1 1) rotate(90)">UC_10</text>
<text x="0" y="0" font-size="13.3" transform="translate(1344.1 960.6) scale(1 1) rotate(90)">UC_7</text>
<text x="0" y="0" font-size="13.3" transform="translate(1360.1 960.6) scale(1 1) rotate(90)">UC_9</text>
<text x="0" y="0" font-size="13.3" transform="translate(1376.1 960.6) scale(1 1) rotate(90)">UC_6</text>
<text x="0" y="0" font-size="13.3" transform="translate(1392.1 960.6) scale(1 1) rotate(90)">PPI_2</text>
<text x="0" y="0" font-size="13.3" transform="translate(1408.1 960.6) scale(1 1) rotate(90)">PPI_4</text>
<text x="0" y="0" font-size="13.3" transform="translate(1424.1 960.6) scale(1 1) rotate(90)">PPI_5</text>
<text x="0" y="0" font-size="13.6" font-weight="bold" transform="translate(1083.8 960.2) scale(1 1) rotate(90)">Taxon</text>
<text x="0" y="0" font-size="13.6" font-weight="bold" transform="translate(1100.8 960.4) scale(1 1) rotate(90)">Sig</text>
<rect x="1587.5" y="919.16" width="13.5" height="3.44" fill="#226243" shape-rendering="crispEdges"/>
<rect x="1587.5" y="916.23" width="13.5" height="3.44" fill="#317141" shape-rendering="crispEdges"/>
<rect x="1587.5" y="913.29" width="13.5" height="3.44" fill="#4a8540" shape-rendering="crispEdges"/>
<rect x="1587.5" y="910.35" width="13.5" height="3.44" fill="#729f40" shape-rendering="crispEdges"/>
<rect x="1587.5" y="907.41" width="13.5" height="3.44" fill="#9ebb39" shape-rendering="crispEdges"/>
<rect x="1587.5" y="904.48" width="13.5" height="3.44" fill="#c5d231" shape-rendering="crispEdges"/>
<rect x="1587.5" y="901.54" width="13.5" height="3.44" fill="#dbdb36" shape-rendering="crispEdges"/>
<rect x="1587.5" y="898.6" width="13.5" height="3.44" fill="#e5de36" shape-rendering="crispEdges"/>
<rect x="1587.5" y="895.67" width="13.5" height="3.44" fill="#e4d830" shape-rendering="crispEdges"/>
<rect x="1587.5" y="892.73" width="13.5" height="3.44" fill="#e2d42c" shape-rendering="crispEdges"/>
<rect x="1587.5" y="889.79" width="13.5" height="3.44" fill="#e1cd28" shape-rendering="crispEdges"/>
<rect x="1587.5" y="886.85" width="13.5" height="3.44" fill="#dfc625" shape-rendering="crispEdges"/>
<rect x="1587.5" y="883.92" width="13.5" height="3.44" fill="#ddc022" shape-rendering="crispEdges"/>
<rect x="1587.5" y="880.98" width="13.5" height="3.44" fill="#dcb91f" shape-rendering="crispEdges"/>
<rect x="1587.5" y="878.04" width="13.5" height="3.44" fill="#dab21c" shape-rendering="crispEdges"/>
<rect x="1587.5" y="875.11" width="13.5" height="3.44" fill="#d8ab19" shape-rendering="crispEdges"/>
<rect x="1587.5" y="872.17" width="13.5" height="3.44" fill="#d7a818" shape-rendering="crispEdges"/>
<rect x="1587.5" y="869.23" width="13.5" height="3.44" fill="#d6a619" shape-rendering="crispEdges"/>
<rect x="1587.5" y="866.29" width="13.5" height="3.44" fill="#d5a319" shape-rendering="crispEdges"/>
<rect x="1587.5" y="863.36" width="13.5" height="3.44" fill="#d4a119" shape-rendering="crispEdges"/>
<rect x="1587.5" y="860.42" width="13.5" height="3.44" fill="#d29e19" shape-rendering="crispEdges"/>
<rect x="1587.5" y="857.48" width="13.5" height="3.44" fill="#d19c1a" shape-rendering="crispEdges"/>
<rect x="1587.5" y="854.55" width="13.5" height="3.44" fill="#d0991a" shape-rendering="crispEdges"/>
<rect x="1587.5" y="851.61" width="13.5" height="3.44" fill="#cf971a" shape-rendering="crispEdges"/>
<rect x="1587.5" y="848.67" width="13.5" height="3.44" fill="#ce941b" shape-rendering="crispEdges"/>
<rect x="1587.5" y="845.73" width="13.5" height="3.44" fill="#cd921b" shape-rendering="crispEdges"/>
<rect x="1587.5" y="842.8" width="13.5" height="3.44" fill="#cc8f1b" shape-rendering="crispEdges"/>
<rect x="1587.5" y="839.86" width="13.5" height="3.44" fill="#ca8d1c" shape-rendering="crispEdges"/>
<rect x="1587.5" y="836.92" width="13.5" height="3.44" fill="#c98a1c" shape-rendering="crispEdges"/>
<rect x="1587.5" y="833.99" width="13.5" height="3.44" fill="#c8871c" shape-rendering="crispEdges"/>
<rect x="1587.5" y="831.05" width="13.5" height="3.44" fill="#c7841c" shape-rendering="crispEdges"/>
<rect x="1587.5" y="828.11" width="13.5" height="3.44" fill="#c5811d" shape-rendering="crispEdges"/>
<rect x="1587.5" y="825.17" width="13.5" height="3.44" fill="#c47e1d" shape-rendering="crispEdges"/>
<rect x="1587.5" y="822.24" width="13.5" height="3.44" fill="#c37b1d" shape-rendering="crispEdges"/>
<rect x="1587.5" y="819.3" width="13.5" height="3.44" fill="#c2781d" shape-rendering="crispEdges"/>
<rect x="1587.5" y="816.36" width="13.5" height="3.44" fill="#c0741e" shape-rendering="crispEdges"/>
<rect x="1587.5" y="813.43" width="13.5" height="3.44" fill="#bf711e" shape-rendering="crispEdges"/>
<rect x="1587.5" y="810.49" width="13.5" height="3.44" fill="#be6e1e" shape-rendering="crispEdges"/>
<rect x="1587.5" y="807.55" width="13.5" height="3.44" fill="#bc6b1e" shape-rendering="crispEdges"/>
<rect x="1587.5" y="804.61" width="13.5" height="3.44" fill="#bb681e" shape-rendering="crispEdges"/>
<rect x="1587.5" y="801.68" width="13.5" height="3.44" fill="#ba651f" shape-rendering="crispEdges"/>
<rect x="1587.5" y="798.74" width="13.5" height="3.44" fill="#b9611f" shape-rendering="crispEdges"/>
<rect x="1587.5" y="795.8" width="13.5" height="3.44" fill="#b75e1f" shape-rendering="crispEdges"/>
<rect x="1587.5" y="792.87" width="13.5" height="3.44" fill="#b55b1f" shape-rendering="crispEdges"/>
<rect x="1587.5" y="789.93" width="13.5" height="3.44" fill="#b3581f" shape-rendering="crispEdges"/>
<rect x="1587.5" y="786.99" width="13.5" height="3.44" fill="#b2541f" shape-rendering="crispEdges"/>
<rect x="1587.5" y="784.05" width="13.5" height="3.44" fill="#b0511f" shape-rendering="crispEdges"/>
<rect x="1587.5" y="781.12" width="13.5" height="3.44" fill="#ae4e1f" shape-rendering="crispEdges"/>
<rect x="1587.5" y="778.18" width="13.5" height="3.44" fill="#ac4b1f" shape-rendering="crispEdges"/>
<rect x="1587.5" y="775.24" width="13.5" height="3.44" fill="#ab471f" shape-rendering="crispEdges"/>
<rect x="1587.5" y="772.31" width="13.5" height="3.44" fill="#a9441f" shape-rendering="crispEdges"/>
<rect x="1587.5" y="769.37" width="13.5" height="3.44" fill="#a7411f" shape-rendering="crispEdges"/>
<rect x="1587.5" y="766.43" width="13.5" height="3.44" fill="#a53e1f" shape-rendering="crispEdges"/>
<rect x="1587.5" y="763.49" width="13.5" height="3.44" fill="#a43b1f" shape-rendering="crispEdges"/>
<rect x="1587.5" y="760.56" width="13.5" height="3.44" fill="#a2371f" shape-rendering="crispEdges"/>
<rect x="1587.5" y="757.62" width="13.5" height="3.44" fill="#a0341f" shape-rendering="crispEdges"/>
<rect x="1587.5" y="754.68" width="13.5" height="3.44" fill="#9e321f" shape-rendering="crispEdges"/>
<rect x="1587.5" y="751.75" width="13.5" height="3.44" fill="#9d301f" shape-rendering="crispEdges"/>
<rect x="1587.5" y="748.81" width="13.5" height="3.44" fill="#9b2f1f" shape-rendering="crispEdges"/>
<rect x="1587.5" y="745.87" width="13.5" height="3.44" fill="#9a2d1f" shape-rendering="crispEdges"/>
<rect x="1587.5" y="742.93" width="13.5" height="3.44" fill="#982b1f" shape-rendering="crispEdges"/>
<rect x="1587.5" y="740" width="13.5" height="3.44" fill="#97291f" shape-rendering="crispEdges"/>
<rect x="1587.5" y="737.06" width="13.5" height="3.44" fill="#95271f" shape-rendering="crispEdges"/>
<rect x="1587.5" y="734.12" width="13.5" height="3.44" fill="#94261e" shape-rendering="crispEdges"/>
<rect x="1587.5" y="731.19" width="13.5" height="3.44" fill="#92241e" shape-rendering="crispEdges"/>
<rect x="1587.5" y="728.25" width="13.5" height="3.44" fill="#91221e" shape-rendering="crispEdges"/>
<rect x="1587.5" y="725.31" width="13.5" height="3.44" fill="#8f201e" shape-rendering="crispEdges"/>
<rect x="1587.5" y="722.37" width="13.5" height="3.44" fill="#8e1e1e" shape-rendering="crispEdges"/>
<rect x="1587.5" y="719.44" width="13.5" height="3.44" fill="#8c1d1e" shape-rendering="crispEdges"/>
<rect x="1587.5" y="716.5" width="13.5" height="3.44" fill="#8b1b1e" shape-rendering="crispEdges"/>
<text x="1607" y="721" font-size="12" textLength="45.8" lengthAdjust="spacingAndGlyphs">28.96%</text>
<text x="1607" y="762.4" font-size="12" textLength="54.2" lengthAdjust="spacingAndGlyphs">23.168%</text>
<text x="1607" y="803.5" font-size="12" textLength="54.2" lengthAdjust="spacingAndGlyphs">17.376%</text>
<text x="1607" y="844.7" font-size="12" textLength="54.2" lengthAdjust="spacingAndGlyphs">11.584%</text>
<text x="1607" y="886" font-size="12" textLength="45.8" lengthAdjust="spacingAndGlyphs">5.792%</text>
<text x="1607" y="927.5" font-size="12" textLength="19.4" lengthAdjust="spacingAndGlyphs">0%</text>
<text x="1685.6" y="725.5" font-size="12" font-weight="bold" textLength="41.7" lengthAdjust="spacingAndGlyphs">Group</text>
<rect x="1685.6" y="730.9" width="19.8" height="19.9" fill="#2178b5" stroke="#a0a0a0" stroke-width="1"/>
<text x="1709.7" y="745.6" font-size="12" textLength="44.6" lengthAdjust="spacingAndGlyphs">Control</text>
<rect x="1685.6" y="750.8" width="19.8" height="19.9" fill="#f0821e" stroke="#a0a0a0" stroke-width="1"/>
<text x="1709.7" y="766" font-size="12" textLength="21.8" lengthAdjust="spacingAndGlyphs">PPI</text>
<rect x="1685.6" y="770.7" width="19.8" height="19.9" fill="#d42a2a" stroke="#a0a0a0" stroke-width="1"/>
<text x="1709.7" y="785.5" font-size="12" textLength="19.7" lengthAdjust="spacingAndGlyphs">UC</text>
<text x="1685.6" y="815.5" font-size="12" font-weight="bold" textLength="39.9" lengthAdjust="spacingAndGlyphs">Taxon</text>
<rect x="1685.6" y="820" width="19.8" height="19.77" fill="#c51b7d" stroke="#a0a0a0" stroke-width="1"/>
<text x="1709.7" y="835" font-size="12" textLength="63.8" lengthAdjust="spacingAndGlyphs">Firmicutes</text>
<rect x="1685.6" y="839.77" width="19.8" height="19.77" fill="#1f5a99" stroke="#a0a0a0" stroke-width="1"/>
<text x="1709.7" y="854.6" font-size="12" textLength="70.1" lengthAdjust="spacingAndGlyphs">Tenericutes</text>
<rect x="1685.6" y="859.54" width="19.8" height="19.77" fill="#d8a32a" stroke="#a0a0a0" stroke-width="1"/>
<text x="1709.7" y="874.7" font-size="12" textLength="89.6" lengthAdjust="spacingAndGlyphs">Proteobacteria</text>
<rect x="1685.6" y="879.31" width="19.8" height="19.77" fill="#7b1a8a" stroke="#a0a0a0" stroke-width="1"/>
<text x="1709.7" y="894.2" font-size="12" textLength="87.2" lengthAdjust="spacingAndGlyphs">Actinobacteria</text>
<rect x="1685.6" y="899.08" width="19.8" height="19.77" fill="#6b8e3b" stroke="#a0a0a0" stroke-width="1"/>
<text x="1709.7" y="913.7" font-size="12" textLength="162.2" lengthAdjust="spacingAndGlyphs">Cyanobacteria/Chloroplast</text>
<rect x="1685.6" y="918.85" width="19.8" height="19.77" fill="#e7808a" stroke="#a0a0a0" stroke-width="1"/>
<text x="1709.7" y="933.5" font-size="12" textLength="93.8" lengthAdjust="spacingAndGlyphs">Deferribacteres</text>
<text x="1685.6" y="963.4" font-size="12" font-weight="bold" textLength="21.8" lengthAdjust="spacingAndGlyphs">Sig</text>
<rect x="1685.6" y="968.6" width="19.8" height="19.5" fill="#e8191c" stroke="#a0a0a0" stroke-width="1"/>
<rect x="1685.6" y="988.1" width="19.8" height="19.5" fill="#1f4ea8" stroke="#a0a0a0" stroke-width="1"/>
<text x="1709.7" y="983.6" font-size="12" textLength="69.2" lengthAdjust="spacingAndGlyphs">Pval &lt; 0.05</text>
<text x="1709.7" y="1002.5" font-size="12" textLength="77.6" lengthAdjust="spacingAndGlyphs">Pval &gt;= 0.05</text>
</svg></body></html>
